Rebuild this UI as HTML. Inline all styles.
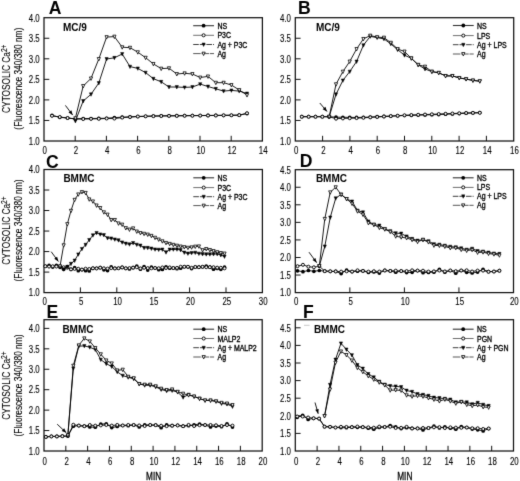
<!DOCTYPE html>
<html><head><meta charset="utf-8"><style>
html,body{margin:0;padding:0;background:#fff;}
body{width:520px;height:481px;overflow:hidden;font-family:"Liberation Sans", sans-serif;}
svg{display:block;}
</style></head><body>
<svg width="520" height="481" viewBox="0 0 520 481" font-family='"Liberation Sans", sans-serif'>
<defs><filter id="bl" color-interpolation-filters="sRGB" filterUnits="userSpaceOnUse" x="0" y="0" width="520" height="481"><feConvolveMatrix order="3" kernelMatrix="1 8 1 8 64 8 1 8 1" divisor="100" edgeMode="duplicate"/></filter></defs>
<rect width="520" height="481" fill="#fff"/>
<g filter="url(#bl)">
<rect x="44.0" y="17.7" width="218.39999999999998" height="123.3" fill="none" stroke="#111" stroke-width="1.25"/>
<text x="0" y="0" font-size="10.1" font-weight="normal" text-anchor="end" fill="#000" stroke="#000" stroke-width="0.12" transform="translate(39.7,144.8) scale(0.78,1)">1.0</text>
<line x1="44.0" y1="120.45" x2="49.3" y2="120.45" stroke="#111" stroke-width="1"/>
<text x="0" y="0" font-size="10.1" font-weight="normal" text-anchor="end" fill="#000" stroke="#000" stroke-width="0.12" transform="translate(39.7,124.25) scale(0.78,1)">1.5</text>
<line x1="44.0" y1="99.90" x2="49.3" y2="99.90" stroke="#111" stroke-width="1"/>
<text x="0" y="0" font-size="10.1" font-weight="normal" text-anchor="end" fill="#000" stroke="#000" stroke-width="0.12" transform="translate(39.7,103.7) scale(0.78,1)">2.0</text>
<line x1="44.0" y1="79.35" x2="49.3" y2="79.35" stroke="#111" stroke-width="1"/>
<text x="0" y="0" font-size="10.1" font-weight="normal" text-anchor="end" fill="#000" stroke="#000" stroke-width="0.12" transform="translate(39.7,83.14999999999999) scale(0.78,1)">2.5</text>
<line x1="44.0" y1="58.80" x2="49.3" y2="58.80" stroke="#111" stroke-width="1"/>
<text x="0" y="0" font-size="10.1" font-weight="normal" text-anchor="end" fill="#000" stroke="#000" stroke-width="0.12" transform="translate(39.7,62.599999999999994) scale(0.78,1)">3.0</text>
<line x1="44.0" y1="38.25" x2="49.3" y2="38.25" stroke="#111" stroke-width="1"/>
<text x="0" y="0" font-size="10.1" font-weight="normal" text-anchor="end" fill="#000" stroke="#000" stroke-width="0.12" transform="translate(39.7,42.05) scale(0.78,1)">3.5</text>
<text x="0" y="0" font-size="10.1" font-weight="normal" text-anchor="end" fill="#000" stroke="#000" stroke-width="0.12" transform="translate(39.7,21.49999999999999) scale(0.78,1)">4.0</text>
<text x="0" y="0" font-size="10.1" font-weight="normal" text-anchor="middle" fill="#000" stroke="#000" stroke-width="0.12" transform="translate(44.8,154.0) scale(0.78,1)">0</text>
<line x1="75.20" y1="141.0" x2="75.20" y2="135.8" stroke="#111" stroke-width="1"/>
<text x="0" y="0" font-size="10.1" font-weight="normal" text-anchor="middle" fill="#000" stroke="#000" stroke-width="0.12" transform="translate(75.99999999999999,154.0) scale(0.78,1)">2</text>
<line x1="106.40" y1="141.0" x2="106.40" y2="135.8" stroke="#111" stroke-width="1"/>
<text x="0" y="0" font-size="10.1" font-weight="normal" text-anchor="middle" fill="#000" stroke="#000" stroke-width="0.12" transform="translate(107.19999999999999,154.0) scale(0.78,1)">4</text>
<line x1="137.60" y1="141.0" x2="137.60" y2="135.8" stroke="#111" stroke-width="1"/>
<text x="0" y="0" font-size="10.1" font-weight="normal" text-anchor="middle" fill="#000" stroke="#000" stroke-width="0.12" transform="translate(138.4,154.0) scale(0.78,1)">6</text>
<line x1="168.80" y1="141.0" x2="168.80" y2="135.8" stroke="#111" stroke-width="1"/>
<text x="0" y="0" font-size="10.1" font-weight="normal" text-anchor="middle" fill="#000" stroke="#000" stroke-width="0.12" transform="translate(169.6,154.0) scale(0.78,1)">8</text>
<line x1="200.00" y1="141.0" x2="200.00" y2="135.8" stroke="#111" stroke-width="1"/>
<text x="0" y="0" font-size="10.1" font-weight="normal" text-anchor="middle" fill="#000" stroke="#000" stroke-width="0.12" transform="translate(200.79999999999998,154.0) scale(0.78,1)">10</text>
<line x1="231.20" y1="141.0" x2="231.20" y2="135.8" stroke="#111" stroke-width="1"/>
<text x="0" y="0" font-size="10.1" font-weight="normal" text-anchor="middle" fill="#000" stroke="#000" stroke-width="0.12" transform="translate(232.0,154.0) scale(0.78,1)">12</text>
<text x="0" y="0" font-size="10.1" font-weight="normal" text-anchor="middle" fill="#000" stroke="#000" stroke-width="0.12" transform="translate(263.2,154.0) scale(0.78,1)">14</text>
<text x="0" y="0" font-size="17.6" font-weight="bold" text-anchor="start" fill="#000" transform="translate(48.8,14.1) scale(1.0,1)">A</text>
<text x="0" y="0" font-size="10.0" font-weight="bold" text-anchor="start" fill="#000" transform="translate(63.0,31.3) scale(1.0,1)">MC/9</text>
<polyline points="193.20,25.70 214.00,25.70" fill="none" stroke="#333" stroke-width="1.1"/>
<circle cx="203.60" cy="25.70" r="1.90" fill="#000"/>
<text x="0" y="0" font-size="8.6" font-weight="normal" text-anchor="start" fill="#000" stroke="#000" stroke-width="0.35" transform="translate(217.39999999999998,28.7) scale(0.81,1)">NS</text>
<polyline points="193.20,35.30 214.00,35.30" fill="none" stroke="#555" stroke-width="0.85"/>
<circle cx="203.60" cy="35.30" r="1.55" fill="#fff" stroke="#000" stroke-width="0.95"/>
<text x="0" y="0" font-size="8.6" font-weight="normal" text-anchor="start" fill="#000" stroke="#000" stroke-width="0.35" transform="translate(217.39999999999998,38.3) scale(0.81,1)">P3C</text>
<polyline points="193.20,44.50 214.00,44.50" fill="none" stroke="#333" stroke-width="0.95" stroke-dasharray="5.6,1"/>
<polygon points="201.99,43.06 205.21,43.06 203.60,46.46" fill="#000" stroke="#000" stroke-width="0.5"/>
<text x="0" y="0" font-size="8.6" font-weight="normal" text-anchor="start" fill="#000" stroke="#000" stroke-width="0.35" transform="translate(217.39999999999998,47.5) scale(0.81,1)">Ag + P3C</text>
<polyline points="193.20,53.60 214.00,53.60" fill="none" stroke="#444" stroke-width="0.9" stroke-dasharray="7.5,0.8"/>
<polygon points="201.99,52.16 205.21,52.16 203.60,55.56" fill="#fff" stroke="#000" stroke-width="0.8"/>
<text x="0" y="0" font-size="8.6" font-weight="normal" text-anchor="start" fill="#000" stroke="#000" stroke-width="0.35" transform="translate(217.39999999999998,56.6) scale(0.81,1)">Ag</text>
<text transform="translate(9.9,78.7) rotate(-90) scale(0.80,1)" font-size="10.4" text-anchor="middle" fill="#000" stroke="#000" stroke-width="0.1">CYTOSOLIC Ca<tspan font-size="8.3" dy="-3.3">2+</tspan></text>
<text transform="translate(21.8,78.7) rotate(-90) scale(0.81,1)" font-size="10.3" text-anchor="middle" fill="#000" stroke="#000" stroke-width="0.1">(Fluorescence 340/380 nm)</text>
<polyline points="52.00,115.35 59.80,117.32 67.60,118.02 75.40,118.80 83.20,118.60 91.00,118.49 98.80,118.39 106.60,118.25 114.40,117.58 122.20,117.19 130.00,116.85 137.80,116.51 145.60,116.26 153.40,116.01 161.20,115.79 169.00,115.73 176.80,115.67 184.60,115.62 192.40,115.56 200.20,115.50 208.00,115.44 215.80,115.38 223.60,115.32 231.40,115.26 239.20,115.16 247.00,113.60" fill="none" stroke="#000" stroke-width="0.9"/>
<circle cx="52.00" cy="115.35" r="1.85" fill="#000"/>
<circle cx="59.80" cy="117.32" r="1.85" fill="#000"/>
<circle cx="67.60" cy="118.02" r="1.85" fill="#000"/>
<circle cx="75.40" cy="118.80" r="1.85" fill="#000"/>
<circle cx="83.20" cy="118.60" r="1.85" fill="#000"/>
<circle cx="91.00" cy="118.49" r="1.85" fill="#000"/>
<circle cx="98.80" cy="118.39" r="1.85" fill="#000"/>
<circle cx="106.60" cy="118.25" r="1.85" fill="#000"/>
<circle cx="114.40" cy="117.58" r="1.85" fill="#000"/>
<circle cx="122.20" cy="117.19" r="1.85" fill="#000"/>
<circle cx="130.00" cy="116.85" r="1.85" fill="#000"/>
<circle cx="137.80" cy="116.51" r="1.85" fill="#000"/>
<circle cx="145.60" cy="116.26" r="1.85" fill="#000"/>
<circle cx="153.40" cy="116.01" r="1.85" fill="#000"/>
<circle cx="161.20" cy="115.79" r="1.85" fill="#000"/>
<circle cx="169.00" cy="115.73" r="1.85" fill="#000"/>
<circle cx="176.80" cy="115.67" r="1.85" fill="#000"/>
<circle cx="184.60" cy="115.62" r="1.85" fill="#000"/>
<circle cx="192.40" cy="115.56" r="1.85" fill="#000"/>
<circle cx="200.20" cy="115.50" r="1.85" fill="#000"/>
<circle cx="208.00" cy="115.44" r="1.85" fill="#000"/>
<circle cx="215.80" cy="115.38" r="1.85" fill="#000"/>
<circle cx="223.60" cy="115.32" r="1.85" fill="#000"/>
<circle cx="231.40" cy="115.26" r="1.85" fill="#000"/>
<circle cx="239.20" cy="115.16" r="1.85" fill="#000"/>
<circle cx="247.00" cy="113.60" r="1.85" fill="#000"/>
<polyline points="52.00,115.83 59.80,117.03 67.60,118.03 75.40,119.00 83.20,119.00 91.00,118.89 98.80,118.77 106.60,118.51 114.40,118.55 122.20,117.59 130.00,117.05 137.80,116.51 145.60,116.33 153.40,116.15 161.20,115.99 169.00,115.91 176.80,115.83 184.60,115.75 192.40,115.68 200.20,115.60 208.00,115.52 215.80,115.44 223.60,115.36 231.40,115.28 239.20,115.15 247.00,113.20" fill="none" stroke="#000" stroke-width="0.9"/>
<circle cx="52.00" cy="115.83" r="1.50" fill="#fff" stroke="#000" stroke-width="0.95"/>
<circle cx="59.80" cy="117.03" r="1.50" fill="#fff" stroke="#000" stroke-width="0.95"/>
<circle cx="67.60" cy="118.03" r="1.50" fill="#fff" stroke="#000" stroke-width="0.95"/>
<circle cx="75.40" cy="119.00" r="1.50" fill="#fff" stroke="#000" stroke-width="0.95"/>
<circle cx="83.20" cy="119.00" r="1.50" fill="#fff" stroke="#000" stroke-width="0.95"/>
<circle cx="91.00" cy="118.89" r="1.50" fill="#fff" stroke="#000" stroke-width="0.95"/>
<circle cx="98.80" cy="118.77" r="1.50" fill="#fff" stroke="#000" stroke-width="0.95"/>
<circle cx="106.60" cy="118.51" r="1.50" fill="#fff" stroke="#000" stroke-width="0.95"/>
<circle cx="114.40" cy="118.55" r="1.50" fill="#fff" stroke="#000" stroke-width="0.95"/>
<circle cx="122.20" cy="117.59" r="1.50" fill="#fff" stroke="#000" stroke-width="0.95"/>
<circle cx="130.00" cy="117.05" r="1.50" fill="#fff" stroke="#000" stroke-width="0.95"/>
<circle cx="137.80" cy="116.51" r="1.50" fill="#fff" stroke="#000" stroke-width="0.95"/>
<circle cx="145.60" cy="116.33" r="1.50" fill="#fff" stroke="#000" stroke-width="0.95"/>
<circle cx="153.40" cy="116.15" r="1.50" fill="#fff" stroke="#000" stroke-width="0.95"/>
<circle cx="161.20" cy="115.99" r="1.50" fill="#fff" stroke="#000" stroke-width="0.95"/>
<circle cx="169.00" cy="115.91" r="1.50" fill="#fff" stroke="#000" stroke-width="0.95"/>
<circle cx="176.80" cy="115.83" r="1.50" fill="#fff" stroke="#000" stroke-width="0.95"/>
<circle cx="184.60" cy="115.75" r="1.50" fill="#fff" stroke="#000" stroke-width="0.95"/>
<circle cx="192.40" cy="115.68" r="1.50" fill="#fff" stroke="#000" stroke-width="0.95"/>
<circle cx="200.20" cy="115.60" r="1.50" fill="#fff" stroke="#000" stroke-width="0.95"/>
<circle cx="208.00" cy="115.52" r="1.50" fill="#fff" stroke="#000" stroke-width="0.95"/>
<circle cx="215.80" cy="115.44" r="1.50" fill="#fff" stroke="#000" stroke-width="0.95"/>
<circle cx="223.60" cy="115.36" r="1.50" fill="#fff" stroke="#000" stroke-width="0.95"/>
<circle cx="231.40" cy="115.28" r="1.50" fill="#fff" stroke="#000" stroke-width="0.95"/>
<circle cx="239.20" cy="115.15" r="1.50" fill="#fff" stroke="#000" stroke-width="0.95"/>
<circle cx="247.00" cy="113.20" r="1.50" fill="#fff" stroke="#000" stroke-width="0.95"/>
<polyline points="75.40,121.00 83.20,101.00 91.00,94.30 98.80,83.00 106.60,59.00 114.40,57.80 122.20,54.00 130.00,66.60 137.80,68.40 145.60,72.60 153.40,78.70 161.20,81.80 169.00,87.00 176.80,87.00 184.60,87.40 192.40,87.00 200.20,84.10 208.00,86.50 215.80,88.80 223.60,91.10 231.40,90.40 239.20,91.10 247.00,93.50" fill="none" stroke="#000" stroke-width="0.9"/>
<polygon points="73.79,119.56 77.01,119.56 75.40,122.96" fill="#000" stroke="#000" stroke-width="0.5"/>
<polygon points="81.59,99.56 84.81,99.56 83.20,102.96" fill="#000" stroke="#000" stroke-width="0.5"/>
<polygon points="89.39,92.86 92.61,92.86 91.00,96.26" fill="#000" stroke="#000" stroke-width="0.5"/>
<polygon points="97.19,81.56 100.41,81.56 98.80,84.96" fill="#000" stroke="#000" stroke-width="0.5"/>
<polygon points="104.99,57.56 108.21,57.56 106.60,60.96" fill="#000" stroke="#000" stroke-width="0.5"/>
<polygon points="112.79,56.36 116.01,56.36 114.40,59.76" fill="#000" stroke="#000" stroke-width="0.5"/>
<polygon points="120.59,52.56 123.81,52.56 122.20,55.96" fill="#000" stroke="#000" stroke-width="0.5"/>
<polygon points="128.39,65.16 131.61,65.16 130.00,68.56" fill="#000" stroke="#000" stroke-width="0.5"/>
<polygon points="136.19,66.97 139.41,66.97 137.80,70.36" fill="#000" stroke="#000" stroke-width="0.5"/>
<polygon points="143.99,71.16 147.21,71.16 145.60,74.56" fill="#000" stroke="#000" stroke-width="0.5"/>
<polygon points="151.79,77.27 155.01,77.27 153.40,80.66" fill="#000" stroke="#000" stroke-width="0.5"/>
<polygon points="159.59,80.36 162.81,80.36 161.20,83.76" fill="#000" stroke="#000" stroke-width="0.5"/>
<polygon points="167.39,85.56 170.61,85.56 169.00,88.96" fill="#000" stroke="#000" stroke-width="0.5"/>
<polygon points="175.19,85.56 178.41,85.56 176.80,88.96" fill="#000" stroke="#000" stroke-width="0.5"/>
<polygon points="182.99,85.97 186.21,85.97 184.60,89.36" fill="#000" stroke="#000" stroke-width="0.5"/>
<polygon points="190.79,85.56 194.01,85.56 192.40,88.96" fill="#000" stroke="#000" stroke-width="0.5"/>
<polygon points="198.59,82.66 201.81,82.66 200.20,86.06" fill="#000" stroke="#000" stroke-width="0.5"/>
<polygon points="206.39,85.06 209.61,85.06 208.00,88.46" fill="#000" stroke="#000" stroke-width="0.5"/>
<polygon points="214.19,87.36 217.41,87.36 215.80,90.76" fill="#000" stroke="#000" stroke-width="0.5"/>
<polygon points="221.99,89.66 225.21,89.66 223.60,93.06" fill="#000" stroke="#000" stroke-width="0.5"/>
<polygon points="229.79,88.97 233.01,88.97 231.40,92.36" fill="#000" stroke="#000" stroke-width="0.5"/>
<polygon points="237.59,89.66 240.81,89.66 239.20,93.06" fill="#000" stroke="#000" stroke-width="0.5"/>
<polygon points="245.39,92.06 248.61,92.06 247.00,95.46" fill="#000" stroke="#000" stroke-width="0.5"/>
<polyline points="75.40,118.20 83.20,86.00 91.00,78.40 98.80,59.00 106.60,37.10 114.40,36.60 122.20,47.20 130.00,47.70 137.80,52.20 145.60,57.70 153.40,63.90 161.20,68.60 169.00,68.20 176.80,74.00 184.60,73.30 192.40,74.00 200.20,77.50 208.00,76.40 215.80,82.70 223.60,82.70 231.40,85.00 239.20,90.00 247.00,95.10" fill="none" stroke="#000" stroke-width="0.9"/>
<polygon points="73.79,116.77 77.01,116.77 75.40,120.16" fill="#fff" stroke="#000" stroke-width="0.8"/>
<polygon points="81.59,84.56 84.81,84.56 83.20,87.96" fill="#fff" stroke="#000" stroke-width="0.8"/>
<polygon points="89.39,76.97 92.61,76.97 91.00,80.36" fill="#fff" stroke="#000" stroke-width="0.8"/>
<polygon points="97.19,57.56 100.41,57.56 98.80,60.96" fill="#fff" stroke="#000" stroke-width="0.8"/>
<polygon points="104.99,35.66 108.21,35.66 106.60,39.06" fill="#fff" stroke="#000" stroke-width="0.8"/>
<polygon points="112.79,35.16 116.01,35.16 114.40,38.56" fill="#fff" stroke="#000" stroke-width="0.8"/>
<polygon points="120.59,45.77 123.81,45.77 122.20,49.16" fill="#fff" stroke="#000" stroke-width="0.8"/>
<polygon points="128.39,46.27 131.61,46.27 130.00,49.66" fill="#fff" stroke="#000" stroke-width="0.8"/>
<polygon points="136.19,50.77 139.41,50.77 137.80,54.16" fill="#fff" stroke="#000" stroke-width="0.8"/>
<polygon points="143.99,56.27 147.21,56.27 145.60,59.66" fill="#fff" stroke="#000" stroke-width="0.8"/>
<polygon points="151.79,62.46 155.01,62.46 153.40,65.86" fill="#fff" stroke="#000" stroke-width="0.8"/>
<polygon points="159.59,67.16 162.81,67.16 161.20,70.56" fill="#fff" stroke="#000" stroke-width="0.8"/>
<polygon points="167.39,66.77 170.61,66.77 169.00,70.16" fill="#fff" stroke="#000" stroke-width="0.8"/>
<polygon points="175.19,72.56 178.41,72.56 176.80,75.96" fill="#fff" stroke="#000" stroke-width="0.8"/>
<polygon points="182.99,71.86 186.21,71.86 184.60,75.26" fill="#fff" stroke="#000" stroke-width="0.8"/>
<polygon points="190.79,72.56 194.01,72.56 192.40,75.96" fill="#fff" stroke="#000" stroke-width="0.8"/>
<polygon points="198.59,76.06 201.81,76.06 200.20,79.46" fill="#fff" stroke="#000" stroke-width="0.8"/>
<polygon points="206.39,74.97 209.61,74.97 208.00,78.36" fill="#fff" stroke="#000" stroke-width="0.8"/>
<polygon points="214.19,81.27 217.41,81.27 215.80,84.66" fill="#fff" stroke="#000" stroke-width="0.8"/>
<polygon points="221.99,81.27 225.21,81.27 223.60,84.66" fill="#fff" stroke="#000" stroke-width="0.8"/>
<polygon points="229.79,83.56 233.01,83.56 231.40,86.96" fill="#fff" stroke="#000" stroke-width="0.8"/>
<polygon points="237.59,88.56 240.81,88.56 239.20,91.96" fill="#fff" stroke="#000" stroke-width="0.8"/>
<polygon points="245.39,93.66 248.61,93.66 247.00,97.06" fill="#fff" stroke="#000" stroke-width="0.8"/>
<line x1="65.4" y1="105.4" x2="72.7" y2="115.1" stroke="#000" stroke-width="0.9"/>
<polygon points="72.70,115.10 68.50,112.51 71.37,110.34" fill="#000"/>
<rect x="295.3" y="17.7" width="218.40000000000003" height="123.3" fill="none" stroke="#111" stroke-width="1.25"/>
<text x="0" y="0" font-size="10.1" font-weight="normal" text-anchor="end" fill="#000" stroke="#000" stroke-width="0.12" transform="translate(291.0,144.8) scale(0.78,1)">1.0</text>
<line x1="295.3" y1="120.45" x2="300.6" y2="120.45" stroke="#111" stroke-width="1"/>
<text x="0" y="0" font-size="10.1" font-weight="normal" text-anchor="end" fill="#000" stroke="#000" stroke-width="0.12" transform="translate(291.0,124.25) scale(0.78,1)">1.5</text>
<line x1="295.3" y1="99.90" x2="300.6" y2="99.90" stroke="#111" stroke-width="1"/>
<text x="0" y="0" font-size="10.1" font-weight="normal" text-anchor="end" fill="#000" stroke="#000" stroke-width="0.12" transform="translate(291.0,103.7) scale(0.78,1)">2.0</text>
<line x1="295.3" y1="79.35" x2="300.6" y2="79.35" stroke="#111" stroke-width="1"/>
<text x="0" y="0" font-size="10.1" font-weight="normal" text-anchor="end" fill="#000" stroke="#000" stroke-width="0.12" transform="translate(291.0,83.14999999999999) scale(0.78,1)">2.5</text>
<line x1="295.3" y1="58.80" x2="300.6" y2="58.80" stroke="#111" stroke-width="1"/>
<text x="0" y="0" font-size="10.1" font-weight="normal" text-anchor="end" fill="#000" stroke="#000" stroke-width="0.12" transform="translate(291.0,62.599999999999994) scale(0.78,1)">3.0</text>
<line x1="295.3" y1="38.25" x2="300.6" y2="38.25" stroke="#111" stroke-width="1"/>
<text x="0" y="0" font-size="10.1" font-weight="normal" text-anchor="end" fill="#000" stroke="#000" stroke-width="0.12" transform="translate(291.0,42.05) scale(0.78,1)">3.5</text>
<text x="0" y="0" font-size="10.1" font-weight="normal" text-anchor="end" fill="#000" stroke="#000" stroke-width="0.12" transform="translate(291.0,21.49999999999999) scale(0.78,1)">4.0</text>
<text x="0" y="0" font-size="10.1" font-weight="normal" text-anchor="middle" fill="#000" stroke="#000" stroke-width="0.12" transform="translate(296.1,154.0) scale(0.78,1)">0</text>
<line x1="322.60" y1="141.0" x2="322.60" y2="135.8" stroke="#111" stroke-width="1"/>
<text x="0" y="0" font-size="10.1" font-weight="normal" text-anchor="middle" fill="#000" stroke="#000" stroke-width="0.12" transform="translate(323.40000000000003,154.0) scale(0.78,1)">2</text>
<line x1="349.90" y1="141.0" x2="349.90" y2="135.8" stroke="#111" stroke-width="1"/>
<text x="0" y="0" font-size="10.1" font-weight="normal" text-anchor="middle" fill="#000" stroke="#000" stroke-width="0.12" transform="translate(350.70000000000005,154.0) scale(0.78,1)">4</text>
<line x1="377.20" y1="141.0" x2="377.20" y2="135.8" stroke="#111" stroke-width="1"/>
<text x="0" y="0" font-size="10.1" font-weight="normal" text-anchor="middle" fill="#000" stroke="#000" stroke-width="0.12" transform="translate(378.00000000000006,154.0) scale(0.78,1)">6</text>
<line x1="404.50" y1="141.0" x2="404.50" y2="135.8" stroke="#111" stroke-width="1"/>
<text x="0" y="0" font-size="10.1" font-weight="normal" text-anchor="middle" fill="#000" stroke="#000" stroke-width="0.12" transform="translate(405.3,154.0) scale(0.78,1)">8</text>
<line x1="431.80" y1="141.0" x2="431.80" y2="135.8" stroke="#111" stroke-width="1"/>
<text x="0" y="0" font-size="10.1" font-weight="normal" text-anchor="middle" fill="#000" stroke="#000" stroke-width="0.12" transform="translate(432.6000000000001,154.0) scale(0.78,1)">10</text>
<line x1="459.10" y1="141.0" x2="459.10" y2="135.8" stroke="#111" stroke-width="1"/>
<text x="0" y="0" font-size="10.1" font-weight="normal" text-anchor="middle" fill="#000" stroke="#000" stroke-width="0.12" transform="translate(459.90000000000003,154.0) scale(0.78,1)">12</text>
<line x1="486.40" y1="141.0" x2="486.40" y2="135.8" stroke="#111" stroke-width="1"/>
<text x="0" y="0" font-size="10.1" font-weight="normal" text-anchor="middle" fill="#000" stroke="#000" stroke-width="0.12" transform="translate(487.20000000000005,154.0) scale(0.78,1)">14</text>
<text x="0" y="0" font-size="10.1" font-weight="normal" text-anchor="middle" fill="#000" stroke="#000" stroke-width="0.12" transform="translate(514.5,154.0) scale(0.78,1)">16</text>
<text x="0" y="0" font-size="17.6" font-weight="bold" text-anchor="start" fill="#000" transform="translate(298.0,14.1) scale(1.0,1)">B</text>
<text x="0" y="0" font-size="10.0" font-weight="bold" text-anchor="start" fill="#000" transform="translate(316.0,31.3) scale(1.0,1)">MC/9</text>
<polyline points="452.90,25.50 473.70,25.50" fill="none" stroke="#333" stroke-width="1.1"/>
<circle cx="463.30" cy="25.50" r="1.90" fill="#000"/>
<text x="0" y="0" font-size="8.6" font-weight="normal" text-anchor="start" fill="#000" stroke="#000" stroke-width="0.35" transform="translate(477.09999999999997,28.5) scale(0.81,1)">NS</text>
<polyline points="452.90,35.60 473.70,35.60" fill="none" stroke="#555" stroke-width="0.85"/>
<circle cx="463.30" cy="35.60" r="1.55" fill="#fff" stroke="#000" stroke-width="0.95"/>
<text x="0" y="0" font-size="8.6" font-weight="normal" text-anchor="start" fill="#000" stroke="#000" stroke-width="0.35" transform="translate(477.09999999999997,38.6) scale(0.81,1)">LPS</text>
<polyline points="452.90,44.70 473.70,44.70" fill="none" stroke="#333" stroke-width="0.95" stroke-dasharray="5.6,1"/>
<polygon points="461.69,43.27 464.91,43.27 463.30,46.66" fill="#000" stroke="#000" stroke-width="0.5"/>
<text x="0" y="0" font-size="8.6" font-weight="normal" text-anchor="start" fill="#000" stroke="#000" stroke-width="0.35" transform="translate(477.09999999999997,47.7) scale(0.81,1)">Ag + LPS</text>
<polyline points="452.90,54.00 473.70,54.00" fill="none" stroke="#444" stroke-width="0.9" stroke-dasharray="7.5,0.8"/>
<polygon points="461.69,52.56 464.91,52.56 463.30,55.96" fill="#fff" stroke="#000" stroke-width="0.8"/>
<text x="0" y="0" font-size="8.6" font-weight="normal" text-anchor="start" fill="#000" stroke="#000" stroke-width="0.35" transform="translate(477.09999999999997,57.0) scale(0.81,1)">Ag</text>
<polyline points="301.80,116.70 308.65,116.70 315.49,116.70 322.34,116.70 329.18,116.71 336.03,117.20 342.88,117.29 349.72,117.37 356.57,117.46 363.41,117.34 370.26,117.03 377.11,116.72 383.95,116.41 390.80,116.10 397.64,115.79 404.49,115.49 411.34,115.30 418.18,115.11 425.03,114.92 431.87,114.73 438.72,114.54 445.57,114.22 452.41,113.88 459.26,113.54 466.10,113.20 472.95,112.90 479.80,112.61" fill="none" stroke="#000" stroke-width="0.9"/>
<circle cx="301.80" cy="116.70" r="1.85" fill="#000"/>
<circle cx="308.65" cy="116.70" r="1.85" fill="#000"/>
<circle cx="315.49" cy="116.70" r="1.85" fill="#000"/>
<circle cx="322.34" cy="116.70" r="1.85" fill="#000"/>
<circle cx="329.18" cy="116.71" r="1.85" fill="#000"/>
<circle cx="336.03" cy="117.20" r="1.85" fill="#000"/>
<circle cx="342.88" cy="117.29" r="1.85" fill="#000"/>
<circle cx="349.72" cy="117.37" r="1.85" fill="#000"/>
<circle cx="356.57" cy="117.46" r="1.85" fill="#000"/>
<circle cx="363.41" cy="117.34" r="1.85" fill="#000"/>
<circle cx="370.26" cy="117.03" r="1.85" fill="#000"/>
<circle cx="377.11" cy="116.72" r="1.85" fill="#000"/>
<circle cx="383.95" cy="116.41" r="1.85" fill="#000"/>
<circle cx="390.80" cy="116.10" r="1.85" fill="#000"/>
<circle cx="397.64" cy="115.79" r="1.85" fill="#000"/>
<circle cx="404.49" cy="115.49" r="1.85" fill="#000"/>
<circle cx="411.34" cy="115.30" r="1.85" fill="#000"/>
<circle cx="418.18" cy="115.11" r="1.85" fill="#000"/>
<circle cx="425.03" cy="114.92" r="1.85" fill="#000"/>
<circle cx="431.87" cy="114.73" r="1.85" fill="#000"/>
<circle cx="438.72" cy="114.54" r="1.85" fill="#000"/>
<circle cx="445.57" cy="114.22" r="1.85" fill="#000"/>
<circle cx="452.41" cy="113.88" r="1.85" fill="#000"/>
<circle cx="459.26" cy="113.54" r="1.85" fill="#000"/>
<circle cx="466.10" cy="113.20" r="1.85" fill="#000"/>
<circle cx="472.95" cy="112.90" r="1.85" fill="#000"/>
<circle cx="479.80" cy="112.61" r="1.85" fill="#000"/>
<polyline points="301.80,116.70 308.65,116.70 315.49,116.70 322.34,116.70 329.18,116.75 336.03,118.70 342.88,118.41 349.72,118.24 356.57,118.08 363.41,117.79 370.26,117.37 377.11,116.95 383.95,116.53 390.80,116.11 397.64,115.69 404.49,115.28 411.34,115.04 418.18,114.79 425.03,114.54 431.87,114.29 438.72,114.05 445.57,113.79 452.41,113.52 459.26,113.26 466.10,113.00 472.95,112.90 479.80,112.80" fill="none" stroke="#000" stroke-width="0.9"/>
<circle cx="301.80" cy="116.70" r="1.50" fill="#fff" stroke="#000" stroke-width="0.95"/>
<circle cx="308.65" cy="116.70" r="1.50" fill="#fff" stroke="#000" stroke-width="0.95"/>
<circle cx="315.49" cy="116.70" r="1.50" fill="#fff" stroke="#000" stroke-width="0.95"/>
<circle cx="322.34" cy="116.70" r="1.50" fill="#fff" stroke="#000" stroke-width="0.95"/>
<circle cx="329.18" cy="116.75" r="1.50" fill="#fff" stroke="#000" stroke-width="0.95"/>
<circle cx="336.03" cy="118.70" r="1.50" fill="#fff" stroke="#000" stroke-width="0.95"/>
<circle cx="342.88" cy="118.41" r="1.50" fill="#fff" stroke="#000" stroke-width="0.95"/>
<circle cx="349.72" cy="118.24" r="1.50" fill="#fff" stroke="#000" stroke-width="0.95"/>
<circle cx="356.57" cy="118.08" r="1.50" fill="#fff" stroke="#000" stroke-width="0.95"/>
<circle cx="363.41" cy="117.79" r="1.50" fill="#fff" stroke="#000" stroke-width="0.95"/>
<circle cx="370.26" cy="117.37" r="1.50" fill="#fff" stroke="#000" stroke-width="0.95"/>
<circle cx="377.11" cy="116.95" r="1.50" fill="#fff" stroke="#000" stroke-width="0.95"/>
<circle cx="383.95" cy="116.53" r="1.50" fill="#fff" stroke="#000" stroke-width="0.95"/>
<circle cx="390.80" cy="116.11" r="1.50" fill="#fff" stroke="#000" stroke-width="0.95"/>
<circle cx="397.64" cy="115.69" r="1.50" fill="#fff" stroke="#000" stroke-width="0.95"/>
<circle cx="404.49" cy="115.28" r="1.50" fill="#fff" stroke="#000" stroke-width="0.95"/>
<circle cx="411.34" cy="115.04" r="1.50" fill="#fff" stroke="#000" stroke-width="0.95"/>
<circle cx="418.18" cy="114.79" r="1.50" fill="#fff" stroke="#000" stroke-width="0.95"/>
<circle cx="425.03" cy="114.54" r="1.50" fill="#fff" stroke="#000" stroke-width="0.95"/>
<circle cx="431.87" cy="114.29" r="1.50" fill="#fff" stroke="#000" stroke-width="0.95"/>
<circle cx="438.72" cy="114.05" r="1.50" fill="#fff" stroke="#000" stroke-width="0.95"/>
<circle cx="445.57" cy="113.79" r="1.50" fill="#fff" stroke="#000" stroke-width="0.95"/>
<circle cx="452.41" cy="113.52" r="1.50" fill="#fff" stroke="#000" stroke-width="0.95"/>
<circle cx="459.26" cy="113.26" r="1.50" fill="#fff" stroke="#000" stroke-width="0.95"/>
<circle cx="466.10" cy="113.00" r="1.50" fill="#fff" stroke="#000" stroke-width="0.95"/>
<circle cx="472.95" cy="112.90" r="1.50" fill="#fff" stroke="#000" stroke-width="0.95"/>
<circle cx="479.80" cy="112.80" r="1.50" fill="#fff" stroke="#000" stroke-width="0.95"/>
<polyline points="329.18,116.70 336.03,94.30 342.88,80.40 349.72,71.60 356.57,61.50 363.41,45.20 370.26,36.40 377.11,37.60 383.95,38.90 390.80,43.90 397.64,49.70 404.49,55.20 411.34,58.30 418.18,64.80 425.03,69.00 431.87,71.60 438.72,72.80 445.57,75.90 452.41,75.90 459.26,77.90 466.10,79.10 472.95,80.40 479.80,81.20" fill="none" stroke="#000" stroke-width="0.9"/>
<polygon points="327.57,115.27 330.79,115.27 329.18,118.66" fill="#000" stroke="#000" stroke-width="0.5"/>
<polygon points="334.42,92.86 337.64,92.86 336.03,96.26" fill="#000" stroke="#000" stroke-width="0.5"/>
<polygon points="341.27,78.97 344.49,78.97 342.88,82.36" fill="#000" stroke="#000" stroke-width="0.5"/>
<polygon points="348.11,70.16 351.33,70.16 349.72,73.56" fill="#000" stroke="#000" stroke-width="0.5"/>
<polygon points="354.96,60.06 358.18,60.06 356.57,63.46" fill="#000" stroke="#000" stroke-width="0.5"/>
<polygon points="361.80,43.77 365.02,43.77 363.41,47.16" fill="#000" stroke="#000" stroke-width="0.5"/>
<polygon points="368.65,34.96 371.87,34.96 370.26,38.36" fill="#000" stroke="#000" stroke-width="0.5"/>
<polygon points="375.50,36.16 378.72,36.16 377.11,39.56" fill="#000" stroke="#000" stroke-width="0.5"/>
<polygon points="382.34,37.46 385.56,37.46 383.95,40.86" fill="#000" stroke="#000" stroke-width="0.5"/>
<polygon points="389.19,42.46 392.41,42.46 390.80,45.86" fill="#000" stroke="#000" stroke-width="0.5"/>
<polygon points="396.03,48.27 399.25,48.27 397.64,51.66" fill="#000" stroke="#000" stroke-width="0.5"/>
<polygon points="402.88,53.77 406.10,53.77 404.49,57.16" fill="#000" stroke="#000" stroke-width="0.5"/>
<polygon points="409.73,56.86 412.95,56.86 411.34,60.26" fill="#000" stroke="#000" stroke-width="0.5"/>
<polygon points="416.57,63.36 419.79,63.36 418.18,66.76" fill="#000" stroke="#000" stroke-width="0.5"/>
<polygon points="423.42,67.56 426.64,67.56 425.03,70.96" fill="#000" stroke="#000" stroke-width="0.5"/>
<polygon points="430.26,70.16 433.48,70.16 431.87,73.56" fill="#000" stroke="#000" stroke-width="0.5"/>
<polygon points="437.11,71.36 440.33,71.36 438.72,74.76" fill="#000" stroke="#000" stroke-width="0.5"/>
<polygon points="443.96,74.47 447.18,74.47 445.57,77.86" fill="#000" stroke="#000" stroke-width="0.5"/>
<polygon points="450.80,74.47 454.02,74.47 452.41,77.86" fill="#000" stroke="#000" stroke-width="0.5"/>
<polygon points="457.65,76.47 460.87,76.47 459.26,79.86" fill="#000" stroke="#000" stroke-width="0.5"/>
<polygon points="464.49,77.66 467.71,77.66 466.10,81.06" fill="#000" stroke="#000" stroke-width="0.5"/>
<polygon points="471.34,78.97 474.56,78.97 472.95,82.36" fill="#000" stroke="#000" stroke-width="0.5"/>
<polygon points="478.19,79.77 481.41,79.77 479.80,83.16" fill="#000" stroke="#000" stroke-width="0.5"/>
<polyline points="329.18,116.70 336.03,84.20 342.88,71.60 349.72,61.50 356.57,49.00 363.41,38.90 370.26,35.60 377.11,37.10 383.95,37.60 390.80,42.70 397.64,49.00 404.49,51.50 411.34,58.30 418.18,64.80 425.03,66.60 431.87,71.60 438.72,72.80 445.57,75.90 452.41,75.90 459.26,77.90 466.10,79.10 472.95,80.40 479.80,81.20" fill="none" stroke="#000" stroke-width="0.9"/>
<polygon points="327.57,115.27 330.79,115.27 329.18,118.66" fill="#fff" stroke="#000" stroke-width="0.8"/>
<polygon points="334.42,82.77 337.64,82.77 336.03,86.16" fill="#fff" stroke="#000" stroke-width="0.8"/>
<polygon points="341.27,70.16 344.49,70.16 342.88,73.56" fill="#fff" stroke="#000" stroke-width="0.8"/>
<polygon points="348.11,60.06 351.33,60.06 349.72,63.46" fill="#fff" stroke="#000" stroke-width="0.8"/>
<polygon points="354.96,47.56 358.18,47.56 356.57,50.96" fill="#fff" stroke="#000" stroke-width="0.8"/>
<polygon points="361.80,37.46 365.02,37.46 363.41,40.86" fill="#fff" stroke="#000" stroke-width="0.8"/>
<polygon points="368.65,34.16 371.87,34.16 370.26,37.56" fill="#fff" stroke="#000" stroke-width="0.8"/>
<polygon points="375.50,35.66 378.72,35.66 377.11,39.06" fill="#fff" stroke="#000" stroke-width="0.8"/>
<polygon points="382.34,36.16 385.56,36.16 383.95,39.56" fill="#fff" stroke="#000" stroke-width="0.8"/>
<polygon points="389.19,41.27 392.41,41.27 390.80,44.66" fill="#fff" stroke="#000" stroke-width="0.8"/>
<polygon points="396.03,47.56 399.25,47.56 397.64,50.96" fill="#fff" stroke="#000" stroke-width="0.8"/>
<polygon points="402.88,50.06 406.10,50.06 404.49,53.46" fill="#fff" stroke="#000" stroke-width="0.8"/>
<polygon points="409.73,56.86 412.95,56.86 411.34,60.26" fill="#fff" stroke="#000" stroke-width="0.8"/>
<polygon points="416.57,63.36 419.79,63.36 418.18,66.76" fill="#fff" stroke="#000" stroke-width="0.8"/>
<polygon points="423.42,65.16 426.64,65.16 425.03,68.56" fill="#fff" stroke="#000" stroke-width="0.8"/>
<polygon points="430.26,70.16 433.48,70.16 431.87,73.56" fill="#fff" stroke="#000" stroke-width="0.8"/>
<polygon points="437.11,71.36 440.33,71.36 438.72,74.76" fill="#fff" stroke="#000" stroke-width="0.8"/>
<polygon points="443.96,74.47 447.18,74.47 445.57,77.86" fill="#fff" stroke="#000" stroke-width="0.8"/>
<polygon points="450.80,74.47 454.02,74.47 452.41,77.86" fill="#fff" stroke="#000" stroke-width="0.8"/>
<polygon points="457.65,76.47 460.87,76.47 459.26,79.86" fill="#fff" stroke="#000" stroke-width="0.8"/>
<polygon points="464.49,77.66 467.71,77.66 466.10,81.06" fill="#fff" stroke="#000" stroke-width="0.8"/>
<polygon points="471.34,78.97 474.56,78.97 472.95,82.36" fill="#fff" stroke="#000" stroke-width="0.8"/>
<polygon points="478.19,79.77 481.41,79.77 479.80,83.16" fill="#fff" stroke="#000" stroke-width="0.8"/>
<line x1="319.8" y1="103" x2="327" y2="111.5" stroke="#000" stroke-width="0.9"/>
<polygon points="327.00,111.50 322.65,109.15 325.40,106.83" fill="#000"/>
<rect x="44.0" y="169.5" width="218.39999999999998" height="123.10000000000002" fill="none" stroke="#111" stroke-width="1.25"/>
<text x="0" y="0" font-size="10.1" font-weight="normal" text-anchor="end" fill="#000" stroke="#000" stroke-width="0.12" transform="translate(39.7,296.40000000000003) scale(0.78,1)">1.0</text>
<line x1="44.0" y1="272.08" x2="49.3" y2="272.08" stroke="#111" stroke-width="1"/>
<text x="0" y="0" font-size="10.1" font-weight="normal" text-anchor="end" fill="#000" stroke="#000" stroke-width="0.12" transform="translate(39.7,275.8833333333334) scale(0.78,1)">1.5</text>
<line x1="44.0" y1="251.57" x2="49.3" y2="251.57" stroke="#111" stroke-width="1"/>
<text x="0" y="0" font-size="10.1" font-weight="normal" text-anchor="end" fill="#000" stroke="#000" stroke-width="0.12" transform="translate(39.7,255.3666666666667) scale(0.78,1)">2.0</text>
<line x1="44.0" y1="231.05" x2="49.3" y2="231.05" stroke="#111" stroke-width="1"/>
<text x="0" y="0" font-size="10.1" font-weight="normal" text-anchor="end" fill="#000" stroke="#000" stroke-width="0.12" transform="translate(39.7,234.85000000000002) scale(0.78,1)">2.5</text>
<line x1="44.0" y1="210.53" x2="49.3" y2="210.53" stroke="#111" stroke-width="1"/>
<text x="0" y="0" font-size="10.1" font-weight="normal" text-anchor="end" fill="#000" stroke="#000" stroke-width="0.12" transform="translate(39.7,214.33333333333337) scale(0.78,1)">3.0</text>
<line x1="44.0" y1="190.02" x2="49.3" y2="190.02" stroke="#111" stroke-width="1"/>
<text x="0" y="0" font-size="10.1" font-weight="normal" text-anchor="end" fill="#000" stroke="#000" stroke-width="0.12" transform="translate(39.7,193.8166666666667) scale(0.78,1)">3.5</text>
<text x="0" y="0" font-size="10.1" font-weight="normal" text-anchor="end" fill="#000" stroke="#000" stroke-width="0.12" transform="translate(39.7,173.3) scale(0.78,1)">4.0</text>
<text x="0" y="0" font-size="10.1" font-weight="normal" text-anchor="middle" fill="#000" stroke="#000" stroke-width="0.12" transform="translate(44.8,304.90000000000003) scale(0.78,1)">0</text>
<line x1="80.40" y1="292.6" x2="80.40" y2="287.40000000000003" stroke="#111" stroke-width="1"/>
<text x="0" y="0" font-size="10.1" font-weight="normal" text-anchor="middle" fill="#000" stroke="#000" stroke-width="0.12" transform="translate(81.2,304.90000000000003) scale(0.78,1)">5</text>
<line x1="116.80" y1="292.6" x2="116.80" y2="287.40000000000003" stroke="#111" stroke-width="1"/>
<text x="0" y="0" font-size="10.1" font-weight="normal" text-anchor="middle" fill="#000" stroke="#000" stroke-width="0.12" transform="translate(117.6,304.90000000000003) scale(0.78,1)">10</text>
<line x1="153.20" y1="292.6" x2="153.20" y2="287.40000000000003" stroke="#111" stroke-width="1"/>
<text x="0" y="0" font-size="10.1" font-weight="normal" text-anchor="middle" fill="#000" stroke="#000" stroke-width="0.12" transform="translate(154.0,304.90000000000003) scale(0.78,1)">15</text>
<line x1="189.60" y1="292.6" x2="189.60" y2="287.40000000000003" stroke="#111" stroke-width="1"/>
<text x="0" y="0" font-size="10.1" font-weight="normal" text-anchor="middle" fill="#000" stroke="#000" stroke-width="0.12" transform="translate(190.4,304.90000000000003) scale(0.78,1)">20</text>
<line x1="226.00" y1="292.6" x2="226.00" y2="287.40000000000003" stroke="#111" stroke-width="1"/>
<text x="0" y="0" font-size="10.1" font-weight="normal" text-anchor="middle" fill="#000" stroke="#000" stroke-width="0.12" transform="translate(226.79999999999998,304.90000000000003) scale(0.78,1)">25</text>
<text x="0" y="0" font-size="10.1" font-weight="normal" text-anchor="middle" fill="#000" stroke="#000" stroke-width="0.12" transform="translate(263.2,304.90000000000003) scale(0.78,1)">30</text>
<text x="0" y="0" font-size="17.6" font-weight="bold" text-anchor="start" fill="#000" transform="translate(46.1,167.6) scale(1.0,1)">C</text>
<text x="0" y="0" font-size="10.0" font-weight="bold" text-anchor="start" fill="#000" transform="translate(63.4,182.3) scale(1.0,1)">BMMC</text>
<polyline points="193.30,177.80 214.10,177.80" fill="none" stroke="#333" stroke-width="1.1"/>
<circle cx="203.70" cy="177.80" r="1.90" fill="#000"/>
<text x="0" y="0" font-size="8.6" font-weight="normal" text-anchor="start" fill="#000" stroke="#000" stroke-width="0.35" transform="translate(217.5,180.8) scale(0.81,1)">NS</text>
<polyline points="193.30,187.60 214.10,187.60" fill="none" stroke="#555" stroke-width="0.85"/>
<circle cx="203.70" cy="187.60" r="1.55" fill="#fff" stroke="#000" stroke-width="0.95"/>
<text x="0" y="0" font-size="8.6" font-weight="normal" text-anchor="start" fill="#000" stroke="#000" stroke-width="0.35" transform="translate(217.5,190.6) scale(0.81,1)">P3C</text>
<polyline points="193.30,196.70 214.10,196.70" fill="none" stroke="#333" stroke-width="0.95" stroke-dasharray="5.6,1"/>
<polygon points="202.09,195.26 205.31,195.26 203.70,198.66" fill="#000" stroke="#000" stroke-width="0.5"/>
<text x="0" y="0" font-size="8.6" font-weight="normal" text-anchor="start" fill="#000" stroke="#000" stroke-width="0.35" transform="translate(217.5,199.7) scale(0.81,1)">Ag + P3C</text>
<polyline points="193.30,205.60 214.10,205.60" fill="none" stroke="#444" stroke-width="0.9" stroke-dasharray="7.5,0.8"/>
<polygon points="202.09,204.16 205.31,204.16 203.70,207.56" fill="#fff" stroke="#000" stroke-width="0.8"/>
<text x="0" y="0" font-size="8.6" font-weight="normal" text-anchor="start" fill="#000" stroke="#000" stroke-width="0.35" transform="translate(217.5,208.6) scale(0.81,1)">Ag</text>
<text transform="translate(9.9,230.5) rotate(-90) scale(0.80,1)" font-size="10.4" text-anchor="middle" fill="#000" stroke="#000" stroke-width="0.1">CYTOSOLIC Ca<tspan font-size="8.3" dy="-3.3">2+</tspan></text>
<text transform="translate(21.8,230.5) rotate(-90) scale(0.81,1)" font-size="10.3" text-anchor="middle" fill="#000" stroke="#000" stroke-width="0.1">(Fluorescence 340/380 nm)</text>
<polyline points="45.40,266.23 49.05,265.38 52.71,267.06 56.36,265.32 60.02,267.28 63.67,269.30 67.33,266.51 70.98,269.30 74.64,267.72 78.29,270.75 81.95,269.61 85.60,270.68 89.26,270.99 92.91,268.28 96.57,268.38 100.22,267.67 103.88,269.82 107.53,270.62 111.19,266.91 114.84,268.39 118.50,268.27 122.16,267.39 125.81,268.34 129.47,268.88 133.12,267.64 136.78,266.04 140.43,269.18 144.08,266.60 147.74,270.12 151.39,267.11 155.05,268.02 158.70,269.75 162.36,269.46 166.01,266.77 169.67,268.21 173.32,268.04 176.98,268.70 180.63,268.25 184.29,266.74 187.94,266.80 191.60,268.59 195.25,266.99 198.91,267.19 202.56,266.80 206.22,266.01 209.88,267.16 213.53,269.22 217.19,268.47 220.84,269.28 224.50,267.15" fill="none" stroke="#000" stroke-width="0.9"/>
<circle cx="45.40" cy="266.23" r="1.85" fill="#000"/>
<circle cx="49.05" cy="265.38" r="1.85" fill="#000"/>
<circle cx="52.71" cy="267.06" r="1.85" fill="#000"/>
<circle cx="56.36" cy="265.32" r="1.85" fill="#000"/>
<circle cx="60.02" cy="267.28" r="1.85" fill="#000"/>
<circle cx="63.67" cy="269.30" r="1.85" fill="#000"/>
<circle cx="67.33" cy="266.51" r="1.85" fill="#000"/>
<circle cx="70.98" cy="269.30" r="1.85" fill="#000"/>
<circle cx="74.64" cy="267.72" r="1.85" fill="#000"/>
<circle cx="78.29" cy="270.75" r="1.85" fill="#000"/>
<circle cx="81.95" cy="269.61" r="1.85" fill="#000"/>
<circle cx="85.60" cy="270.68" r="1.85" fill="#000"/>
<circle cx="89.26" cy="270.99" r="1.85" fill="#000"/>
<circle cx="92.91" cy="268.28" r="1.85" fill="#000"/>
<circle cx="96.57" cy="268.38" r="1.85" fill="#000"/>
<circle cx="100.22" cy="267.67" r="1.85" fill="#000"/>
<circle cx="103.88" cy="269.82" r="1.85" fill="#000"/>
<circle cx="107.53" cy="270.62" r="1.85" fill="#000"/>
<circle cx="111.19" cy="266.91" r="1.85" fill="#000"/>
<circle cx="114.84" cy="268.39" r="1.85" fill="#000"/>
<circle cx="118.50" cy="268.27" r="1.85" fill="#000"/>
<circle cx="122.16" cy="267.39" r="1.85" fill="#000"/>
<circle cx="125.81" cy="268.34" r="1.85" fill="#000"/>
<circle cx="129.47" cy="268.88" r="1.85" fill="#000"/>
<circle cx="133.12" cy="267.64" r="1.85" fill="#000"/>
<circle cx="136.78" cy="266.04" r="1.85" fill="#000"/>
<circle cx="140.43" cy="269.18" r="1.85" fill="#000"/>
<circle cx="144.08" cy="266.60" r="1.85" fill="#000"/>
<circle cx="147.74" cy="270.12" r="1.85" fill="#000"/>
<circle cx="151.39" cy="267.11" r="1.85" fill="#000"/>
<circle cx="155.05" cy="268.02" r="1.85" fill="#000"/>
<circle cx="158.70" cy="269.75" r="1.85" fill="#000"/>
<circle cx="162.36" cy="269.46" r="1.85" fill="#000"/>
<circle cx="166.01" cy="266.77" r="1.85" fill="#000"/>
<circle cx="169.67" cy="268.21" r="1.85" fill="#000"/>
<circle cx="173.32" cy="268.04" r="1.85" fill="#000"/>
<circle cx="176.98" cy="268.70" r="1.85" fill="#000"/>
<circle cx="180.63" cy="268.25" r="1.85" fill="#000"/>
<circle cx="184.29" cy="266.74" r="1.85" fill="#000"/>
<circle cx="187.94" cy="266.80" r="1.85" fill="#000"/>
<circle cx="191.60" cy="268.59" r="1.85" fill="#000"/>
<circle cx="195.25" cy="266.99" r="1.85" fill="#000"/>
<circle cx="198.91" cy="267.19" r="1.85" fill="#000"/>
<circle cx="202.56" cy="266.80" r="1.85" fill="#000"/>
<circle cx="206.22" cy="266.01" r="1.85" fill="#000"/>
<circle cx="209.88" cy="267.16" r="1.85" fill="#000"/>
<circle cx="213.53" cy="269.22" r="1.85" fill="#000"/>
<circle cx="217.19" cy="268.47" r="1.85" fill="#000"/>
<circle cx="220.84" cy="269.28" r="1.85" fill="#000"/>
<circle cx="224.50" cy="267.15" r="1.85" fill="#000"/>
<polyline points="45.40,266.23 49.05,266.58 52.71,266.26 56.36,266.52 60.02,266.48 63.67,267.25 67.33,267.71 70.98,269.30 74.64,268.92 78.29,268.75 81.95,269.61 85.60,268.68 89.26,268.99 92.91,268.28 96.57,268.38 100.22,267.67 103.88,268.32 107.53,268.62 111.19,268.11 114.84,268.39 118.50,268.27 122.16,267.39 125.81,268.34 129.47,268.08 133.12,267.64 136.78,267.24 140.43,268.38 144.08,267.80 147.74,268.12 151.39,268.31 155.05,268.02 158.70,268.25 162.36,267.46 166.01,267.97 169.67,267.41 173.32,268.04 176.98,267.90 180.63,266.75 184.29,266.74 187.94,266.80 191.60,267.79 195.25,266.99 198.91,267.19 202.56,266.80 206.22,267.21 209.88,267.16 213.53,267.22 217.19,267.67 220.84,267.78 224.50,268.35" fill="none" stroke="#000" stroke-width="0.9"/>
<circle cx="45.40" cy="266.23" r="1.50" fill="#fff" stroke="#000" stroke-width="0.95"/>
<circle cx="49.05" cy="266.58" r="1.50" fill="#fff" stroke="#000" stroke-width="0.95"/>
<circle cx="52.71" cy="266.26" r="1.50" fill="#fff" stroke="#000" stroke-width="0.95"/>
<circle cx="56.36" cy="266.52" r="1.50" fill="#fff" stroke="#000" stroke-width="0.95"/>
<circle cx="60.02" cy="266.48" r="1.50" fill="#fff" stroke="#000" stroke-width="0.95"/>
<circle cx="63.67" cy="267.25" r="1.50" fill="#fff" stroke="#000" stroke-width="0.95"/>
<circle cx="67.33" cy="267.71" r="1.50" fill="#fff" stroke="#000" stroke-width="0.95"/>
<circle cx="70.98" cy="269.30" r="1.50" fill="#fff" stroke="#000" stroke-width="0.95"/>
<circle cx="74.64" cy="268.92" r="1.50" fill="#fff" stroke="#000" stroke-width="0.95"/>
<circle cx="78.29" cy="268.75" r="1.50" fill="#fff" stroke="#000" stroke-width="0.95"/>
<circle cx="81.95" cy="269.61" r="1.50" fill="#fff" stroke="#000" stroke-width="0.95"/>
<circle cx="85.60" cy="268.68" r="1.50" fill="#fff" stroke="#000" stroke-width="0.95"/>
<circle cx="89.26" cy="268.99" r="1.50" fill="#fff" stroke="#000" stroke-width="0.95"/>
<circle cx="92.91" cy="268.28" r="1.50" fill="#fff" stroke="#000" stroke-width="0.95"/>
<circle cx="96.57" cy="268.38" r="1.50" fill="#fff" stroke="#000" stroke-width="0.95"/>
<circle cx="100.22" cy="267.67" r="1.50" fill="#fff" stroke="#000" stroke-width="0.95"/>
<circle cx="103.88" cy="268.32" r="1.50" fill="#fff" stroke="#000" stroke-width="0.95"/>
<circle cx="107.53" cy="268.62" r="1.50" fill="#fff" stroke="#000" stroke-width="0.95"/>
<circle cx="111.19" cy="268.11" r="1.50" fill="#fff" stroke="#000" stroke-width="0.95"/>
<circle cx="114.84" cy="268.39" r="1.50" fill="#fff" stroke="#000" stroke-width="0.95"/>
<circle cx="118.50" cy="268.27" r="1.50" fill="#fff" stroke="#000" stroke-width="0.95"/>
<circle cx="122.16" cy="267.39" r="1.50" fill="#fff" stroke="#000" stroke-width="0.95"/>
<circle cx="125.81" cy="268.34" r="1.50" fill="#fff" stroke="#000" stroke-width="0.95"/>
<circle cx="129.47" cy="268.08" r="1.50" fill="#fff" stroke="#000" stroke-width="0.95"/>
<circle cx="133.12" cy="267.64" r="1.50" fill="#fff" stroke="#000" stroke-width="0.95"/>
<circle cx="136.78" cy="267.24" r="1.50" fill="#fff" stroke="#000" stroke-width="0.95"/>
<circle cx="140.43" cy="268.38" r="1.50" fill="#fff" stroke="#000" stroke-width="0.95"/>
<circle cx="144.08" cy="267.80" r="1.50" fill="#fff" stroke="#000" stroke-width="0.95"/>
<circle cx="147.74" cy="268.12" r="1.50" fill="#fff" stroke="#000" stroke-width="0.95"/>
<circle cx="151.39" cy="268.31" r="1.50" fill="#fff" stroke="#000" stroke-width="0.95"/>
<circle cx="155.05" cy="268.02" r="1.50" fill="#fff" stroke="#000" stroke-width="0.95"/>
<circle cx="158.70" cy="268.25" r="1.50" fill="#fff" stroke="#000" stroke-width="0.95"/>
<circle cx="162.36" cy="267.46" r="1.50" fill="#fff" stroke="#000" stroke-width="0.95"/>
<circle cx="166.01" cy="267.97" r="1.50" fill="#fff" stroke="#000" stroke-width="0.95"/>
<circle cx="169.67" cy="267.41" r="1.50" fill="#fff" stroke="#000" stroke-width="0.95"/>
<circle cx="173.32" cy="268.04" r="1.50" fill="#fff" stroke="#000" stroke-width="0.95"/>
<circle cx="176.98" cy="267.90" r="1.50" fill="#fff" stroke="#000" stroke-width="0.95"/>
<circle cx="180.63" cy="266.75" r="1.50" fill="#fff" stroke="#000" stroke-width="0.95"/>
<circle cx="184.29" cy="266.74" r="1.50" fill="#fff" stroke="#000" stroke-width="0.95"/>
<circle cx="187.94" cy="266.80" r="1.50" fill="#fff" stroke="#000" stroke-width="0.95"/>
<circle cx="191.60" cy="267.79" r="1.50" fill="#fff" stroke="#000" stroke-width="0.95"/>
<circle cx="195.25" cy="266.99" r="1.50" fill="#fff" stroke="#000" stroke-width="0.95"/>
<circle cx="198.91" cy="267.19" r="1.50" fill="#fff" stroke="#000" stroke-width="0.95"/>
<circle cx="202.56" cy="266.80" r="1.50" fill="#fff" stroke="#000" stroke-width="0.95"/>
<circle cx="206.22" cy="267.21" r="1.50" fill="#fff" stroke="#000" stroke-width="0.95"/>
<circle cx="209.88" cy="267.16" r="1.50" fill="#fff" stroke="#000" stroke-width="0.95"/>
<circle cx="213.53" cy="267.22" r="1.50" fill="#fff" stroke="#000" stroke-width="0.95"/>
<circle cx="217.19" cy="267.67" r="1.50" fill="#fff" stroke="#000" stroke-width="0.95"/>
<circle cx="220.84" cy="267.78" r="1.50" fill="#fff" stroke="#000" stroke-width="0.95"/>
<circle cx="224.50" cy="268.35" r="1.50" fill="#fff" stroke="#000" stroke-width="0.95"/>
<polyline points="60.02,266.42 63.67,269.18 67.33,266.78 70.98,263.73 74.64,260.54 78.29,254.31 81.95,248.87 85.60,244.72 89.26,239.92 92.91,235.23 96.57,232.89 100.22,234.31 103.88,235.02 107.53,238.10 111.19,238.38 114.84,239.38 118.50,240.22 122.16,242.32 125.81,243.53 129.47,244.29 133.12,242.95 136.78,244.59 140.43,245.48 144.08,247.80 147.74,247.80 151.39,248.50 155.05,249.36 158.70,249.63 162.36,249.47 166.01,252.25 169.67,249.49 173.32,249.39 176.98,249.35 180.63,250.00 184.29,252.49 187.94,253.42 191.60,252.90 195.25,252.59 198.91,253.58 202.56,254.04 206.22,254.20 209.88,254.20 213.53,254.10 217.19,253.92 220.84,255.08 224.50,256.46" fill="none" stroke="#000" stroke-width="0.9"/>
<polygon points="58.41,264.98 61.63,264.98 60.02,268.38" fill="#000" stroke="#000" stroke-width="0.5"/>
<polygon points="62.06,267.75 65.28,267.75 63.67,271.14" fill="#000" stroke="#000" stroke-width="0.5"/>
<polygon points="65.72,265.35 68.94,265.35 67.33,268.74" fill="#000" stroke="#000" stroke-width="0.5"/>
<polygon points="69.38,262.29 72.59,262.29 70.98,265.69" fill="#000" stroke="#000" stroke-width="0.5"/>
<polygon points="73.03,259.10 76.25,259.10 74.64,262.50" fill="#000" stroke="#000" stroke-width="0.5"/>
<polygon points="76.68,252.88 79.90,252.88 78.29,256.27" fill="#000" stroke="#000" stroke-width="0.5"/>
<polygon points="80.34,247.44 83.56,247.44 81.95,250.83" fill="#000" stroke="#000" stroke-width="0.5"/>
<polygon points="83.99,243.29 87.21,243.29 85.60,246.68" fill="#000" stroke="#000" stroke-width="0.5"/>
<polygon points="87.65,238.49 90.87,238.49 89.26,241.88" fill="#000" stroke="#000" stroke-width="0.5"/>
<polygon points="91.30,233.79 94.52,233.79 92.91,237.19" fill="#000" stroke="#000" stroke-width="0.5"/>
<polygon points="94.96,231.45 98.18,231.45 96.57,234.85" fill="#000" stroke="#000" stroke-width="0.5"/>
<polygon points="98.61,232.88 101.83,232.88 100.22,236.27" fill="#000" stroke="#000" stroke-width="0.5"/>
<polygon points="102.27,233.59 105.49,233.59 103.88,236.98" fill="#000" stroke="#000" stroke-width="0.5"/>
<polygon points="105.92,236.67 109.14,236.67 107.53,240.06" fill="#000" stroke="#000" stroke-width="0.5"/>
<polygon points="109.58,236.94 112.80,236.94 111.19,240.34" fill="#000" stroke="#000" stroke-width="0.5"/>
<polygon points="113.23,237.95 116.45,237.95 114.84,241.34" fill="#000" stroke="#000" stroke-width="0.5"/>
<polygon points="116.89,238.78 120.11,238.78 118.50,242.18" fill="#000" stroke="#000" stroke-width="0.5"/>
<polygon points="120.55,240.88 123.77,240.88 122.16,244.28" fill="#000" stroke="#000" stroke-width="0.5"/>
<polygon points="124.20,242.10 127.42,242.10 125.81,245.49" fill="#000" stroke="#000" stroke-width="0.5"/>
<polygon points="127.86,242.86 131.08,242.86 129.47,246.25" fill="#000" stroke="#000" stroke-width="0.5"/>
<polygon points="131.51,241.52 134.73,241.52 133.12,244.91" fill="#000" stroke="#000" stroke-width="0.5"/>
<polygon points="135.16,243.16 138.39,243.16 136.78,246.55" fill="#000" stroke="#000" stroke-width="0.5"/>
<polygon points="138.82,244.05 142.04,244.05 140.43,247.44" fill="#000" stroke="#000" stroke-width="0.5"/>
<polygon points="142.47,246.37 145.69,246.37 144.08,249.76" fill="#000" stroke="#000" stroke-width="0.5"/>
<polygon points="146.13,246.37 149.35,246.37 147.74,249.76" fill="#000" stroke="#000" stroke-width="0.5"/>
<polygon points="149.78,247.06 153.00,247.06 151.39,250.46" fill="#000" stroke="#000" stroke-width="0.5"/>
<polygon points="153.44,247.92 156.66,247.92 155.05,251.32" fill="#000" stroke="#000" stroke-width="0.5"/>
<polygon points="157.09,248.19 160.31,248.19 158.70,251.59" fill="#000" stroke="#000" stroke-width="0.5"/>
<polygon points="160.75,248.04 163.97,248.04 162.36,251.43" fill="#000" stroke="#000" stroke-width="0.5"/>
<polygon points="164.40,250.82 167.62,250.82 166.01,254.21" fill="#000" stroke="#000" stroke-width="0.5"/>
<polygon points="168.06,248.05 171.28,248.05 169.67,251.45" fill="#000" stroke="#000" stroke-width="0.5"/>
<polygon points="171.71,247.95 174.94,247.95 173.32,251.35" fill="#000" stroke="#000" stroke-width="0.5"/>
<polygon points="175.37,247.91 178.59,247.91 176.98,251.31" fill="#000" stroke="#000" stroke-width="0.5"/>
<polygon points="179.02,248.57 182.25,248.57 180.63,251.96" fill="#000" stroke="#000" stroke-width="0.5"/>
<polygon points="182.68,251.06 185.90,251.06 184.29,254.45" fill="#000" stroke="#000" stroke-width="0.5"/>
<polygon points="186.33,251.99 189.56,251.99 187.94,255.38" fill="#000" stroke="#000" stroke-width="0.5"/>
<polygon points="189.99,251.47 193.21,251.47 191.60,254.86" fill="#000" stroke="#000" stroke-width="0.5"/>
<polygon points="193.64,251.16 196.87,251.16 195.25,254.55" fill="#000" stroke="#000" stroke-width="0.5"/>
<polygon points="197.30,252.14 200.52,252.14 198.91,255.54" fill="#000" stroke="#000" stroke-width="0.5"/>
<polygon points="200.95,252.61 204.18,252.61 202.56,256.00" fill="#000" stroke="#000" stroke-width="0.5"/>
<polygon points="204.61,252.76 207.83,252.76 206.22,256.16" fill="#000" stroke="#000" stroke-width="0.5"/>
<polygon points="208.26,252.76 211.49,252.76 209.88,256.16" fill="#000" stroke="#000" stroke-width="0.5"/>
<polygon points="211.92,252.67 215.14,252.67 213.53,256.06" fill="#000" stroke="#000" stroke-width="0.5"/>
<polygon points="215.57,252.49 218.80,252.49 217.19,255.88" fill="#000" stroke="#000" stroke-width="0.5"/>
<polygon points="219.23,253.65 222.45,253.65 220.84,257.04" fill="#000" stroke="#000" stroke-width="0.5"/>
<polygon points="222.88,255.03 226.11,255.03 224.50,258.42" fill="#000" stroke="#000" stroke-width="0.5"/>
<polyline points="60.02,266.28 63.67,245.24 67.33,224.09 70.98,210.73 74.64,199.76 78.29,194.34 81.95,192.01 85.60,192.83 89.26,199.33 92.91,201.35 96.57,205.42 100.22,207.95 103.88,212.24 107.53,214.56 111.19,219.90 114.84,219.90 118.50,223.37 122.16,224.55 125.81,228.06 129.47,229.49 133.12,228.29 136.78,231.46 140.43,232.97 144.08,233.72 147.74,234.53 151.39,235.81 155.05,237.65 158.70,239.45 162.36,241.22 166.01,242.86 169.67,243.82 173.32,244.77 176.98,245.62 180.63,246.46 184.29,247.09 187.94,247.71 191.60,247.29 195.25,246.57 198.91,246.33 202.56,250.11 206.22,248.97 209.88,249.96 213.53,251.01 217.19,252.10 220.84,252.94 224.50,253.48" fill="none" stroke="#000" stroke-width="0.9"/>
<polygon points="58.41,264.85 61.63,264.85 60.02,268.24" fill="#fff" stroke="#000" stroke-width="0.8"/>
<polygon points="62.06,243.81 65.28,243.81 63.67,247.20" fill="#fff" stroke="#000" stroke-width="0.8"/>
<polygon points="65.72,222.65 68.94,222.65 67.33,226.05" fill="#fff" stroke="#000" stroke-width="0.8"/>
<polygon points="69.38,209.30 72.59,209.30 70.98,212.69" fill="#fff" stroke="#000" stroke-width="0.8"/>
<polygon points="73.03,198.33 76.25,198.33 74.64,201.72" fill="#fff" stroke="#000" stroke-width="0.8"/>
<polygon points="76.68,192.91 79.90,192.91 78.29,196.30" fill="#fff" stroke="#000" stroke-width="0.8"/>
<polygon points="80.34,190.58 83.56,190.58 81.95,193.97" fill="#fff" stroke="#000" stroke-width="0.8"/>
<polygon points="83.99,191.40 87.21,191.40 85.60,194.79" fill="#fff" stroke="#000" stroke-width="0.8"/>
<polygon points="87.65,197.90 90.87,197.90 89.26,201.29" fill="#fff" stroke="#000" stroke-width="0.8"/>
<polygon points="91.30,199.92 94.52,199.92 92.91,203.31" fill="#fff" stroke="#000" stroke-width="0.8"/>
<polygon points="94.96,203.98 98.18,203.98 96.57,207.38" fill="#fff" stroke="#000" stroke-width="0.8"/>
<polygon points="98.61,206.51 101.83,206.51 100.22,209.91" fill="#fff" stroke="#000" stroke-width="0.8"/>
<polygon points="102.27,210.81 105.49,210.81 103.88,214.20" fill="#fff" stroke="#000" stroke-width="0.8"/>
<polygon points="105.92,213.12 109.14,213.12 107.53,216.52" fill="#fff" stroke="#000" stroke-width="0.8"/>
<polygon points="109.58,218.47 112.80,218.47 111.19,221.86" fill="#fff" stroke="#000" stroke-width="0.8"/>
<polygon points="113.23,218.47 116.45,218.47 114.84,221.86" fill="#fff" stroke="#000" stroke-width="0.8"/>
<polygon points="116.89,221.93 120.11,221.93 118.50,225.33" fill="#fff" stroke="#000" stroke-width="0.8"/>
<polygon points="120.55,223.12 123.77,223.12 122.16,226.51" fill="#fff" stroke="#000" stroke-width="0.8"/>
<polygon points="124.20,226.62 127.42,226.62 125.81,230.02" fill="#fff" stroke="#000" stroke-width="0.8"/>
<polygon points="127.86,228.06 131.08,228.06 129.47,231.45" fill="#fff" stroke="#000" stroke-width="0.8"/>
<polygon points="131.51,226.86 134.73,226.86 133.12,230.25" fill="#fff" stroke="#000" stroke-width="0.8"/>
<polygon points="135.16,230.02 138.39,230.02 136.78,233.42" fill="#fff" stroke="#000" stroke-width="0.8"/>
<polygon points="138.82,231.54 142.04,231.54 140.43,234.93" fill="#fff" stroke="#000" stroke-width="0.8"/>
<polygon points="142.47,232.28 145.69,232.28 144.08,235.68" fill="#fff" stroke="#000" stroke-width="0.8"/>
<polygon points="146.13,233.09 149.35,233.09 147.74,236.49" fill="#fff" stroke="#000" stroke-width="0.8"/>
<polygon points="149.78,234.37 153.00,234.37 151.39,237.77" fill="#fff" stroke="#000" stroke-width="0.8"/>
<polygon points="153.44,236.22 156.66,236.22 155.05,239.61" fill="#fff" stroke="#000" stroke-width="0.8"/>
<polygon points="157.09,238.02 160.31,238.02 158.70,241.41" fill="#fff" stroke="#000" stroke-width="0.8"/>
<polygon points="160.75,239.79 163.97,239.79 162.36,243.18" fill="#fff" stroke="#000" stroke-width="0.8"/>
<polygon points="164.40,241.43 167.62,241.43 166.01,244.82" fill="#fff" stroke="#000" stroke-width="0.8"/>
<polygon points="168.06,242.39 171.28,242.39 169.67,245.78" fill="#fff" stroke="#000" stroke-width="0.8"/>
<polygon points="171.71,243.34 174.94,243.34 173.32,246.73" fill="#fff" stroke="#000" stroke-width="0.8"/>
<polygon points="175.37,244.18 178.59,244.18 176.98,247.58" fill="#fff" stroke="#000" stroke-width="0.8"/>
<polygon points="179.02,245.03 182.25,245.03 180.63,248.42" fill="#fff" stroke="#000" stroke-width="0.8"/>
<polygon points="182.68,245.65 185.90,245.65 184.29,249.05" fill="#fff" stroke="#000" stroke-width="0.8"/>
<polygon points="186.33,246.27 189.56,246.27 187.94,249.67" fill="#fff" stroke="#000" stroke-width="0.8"/>
<polygon points="189.99,245.86 193.21,245.86 191.60,249.25" fill="#fff" stroke="#000" stroke-width="0.8"/>
<polygon points="193.64,245.13 196.87,245.13 195.25,248.53" fill="#fff" stroke="#000" stroke-width="0.8"/>
<polygon points="197.30,244.90 200.52,244.90 198.91,248.29" fill="#fff" stroke="#000" stroke-width="0.8"/>
<polygon points="200.95,248.68 204.18,248.68 202.56,252.07" fill="#fff" stroke="#000" stroke-width="0.8"/>
<polygon points="204.61,247.53 207.83,247.53 206.22,250.93" fill="#fff" stroke="#000" stroke-width="0.8"/>
<polygon points="208.26,248.52 211.49,248.52 209.88,251.92" fill="#fff" stroke="#000" stroke-width="0.8"/>
<polygon points="211.92,249.57 215.14,249.57 213.53,252.97" fill="#fff" stroke="#000" stroke-width="0.8"/>
<polygon points="215.57,250.66 218.80,250.66 217.19,254.06" fill="#fff" stroke="#000" stroke-width="0.8"/>
<polygon points="219.23,251.51 222.45,251.51 220.84,254.90" fill="#fff" stroke="#000" stroke-width="0.8"/>
<polygon points="222.88,252.05 226.11,252.05 224.50,255.44" fill="#fff" stroke="#000" stroke-width="0.8"/>
<line x1="51.2" y1="251.7" x2="58.4" y2="261.5" stroke="#000" stroke-width="0.9"/>
<polygon points="58.40,261.50 54.23,258.86 57.13,256.73" fill="#000"/>
<rect x="295.3" y="169.7" width="218.2" height="122.90000000000003" fill="none" stroke="#111" stroke-width="1.25"/>
<text x="0" y="0" font-size="10.1" font-weight="normal" text-anchor="end" fill="#000" stroke="#000" stroke-width="0.12" transform="translate(291.0,296.40000000000003) scale(0.78,1)">1.0</text>
<line x1="295.3" y1="275.04" x2="300.6" y2="275.04" stroke="#111" stroke-width="1"/>
<text x="0" y="0" font-size="10.1" font-weight="normal" text-anchor="end" fill="#000" stroke="#000" stroke-width="0.12" transform="translate(291.0,278.84285714285716) scale(0.78,1)">1.5</text>
<line x1="295.3" y1="257.49" x2="300.6" y2="257.49" stroke="#111" stroke-width="1"/>
<text x="0" y="0" font-size="10.1" font-weight="normal" text-anchor="end" fill="#000" stroke="#000" stroke-width="0.12" transform="translate(291.0,261.28571428571433) scale(0.78,1)">2.0</text>
<line x1="295.3" y1="239.93" x2="300.6" y2="239.93" stroke="#111" stroke-width="1"/>
<text x="0" y="0" font-size="10.1" font-weight="normal" text-anchor="end" fill="#000" stroke="#000" stroke-width="0.12" transform="translate(291.0,243.72857142857146) scale(0.78,1)">2.5</text>
<line x1="295.3" y1="222.37" x2="300.6" y2="222.37" stroke="#111" stroke-width="1"/>
<text x="0" y="0" font-size="10.1" font-weight="normal" text-anchor="end" fill="#000" stroke="#000" stroke-width="0.12" transform="translate(291.0,226.17142857142858) scale(0.78,1)">3.0</text>
<line x1="295.3" y1="204.81" x2="300.6" y2="204.81" stroke="#111" stroke-width="1"/>
<text x="0" y="0" font-size="10.1" font-weight="normal" text-anchor="end" fill="#000" stroke="#000" stroke-width="0.12" transform="translate(291.0,208.61428571428573) scale(0.78,1)">3.5</text>
<line x1="295.3" y1="187.26" x2="300.6" y2="187.26" stroke="#111" stroke-width="1"/>
<text x="0" y="0" font-size="10.1" font-weight="normal" text-anchor="end" fill="#000" stroke="#000" stroke-width="0.12" transform="translate(291.0,191.05714285714288) scale(0.78,1)">4.0</text>
<text x="0" y="0" font-size="10.1" font-weight="normal" text-anchor="end" fill="#000" stroke="#000" stroke-width="0.12" transform="translate(291.0,173.5) scale(0.78,1)">4.5</text>
<text x="0" y="0" font-size="10.1" font-weight="normal" text-anchor="middle" fill="#000" stroke="#000" stroke-width="0.12" transform="translate(296.1,304.90000000000003) scale(0.78,1)">0</text>
<line x1="349.85" y1="292.6" x2="349.85" y2="287.40000000000003" stroke="#111" stroke-width="1"/>
<text x="0" y="0" font-size="10.1" font-weight="normal" text-anchor="middle" fill="#000" stroke="#000" stroke-width="0.12" transform="translate(350.65000000000003,304.90000000000003) scale(0.78,1)">5</text>
<line x1="404.40" y1="292.6" x2="404.40" y2="287.40000000000003" stroke="#111" stroke-width="1"/>
<text x="0" y="0" font-size="10.1" font-weight="normal" text-anchor="middle" fill="#000" stroke="#000" stroke-width="0.12" transform="translate(405.2,304.90000000000003) scale(0.78,1)">10</text>
<line x1="458.95" y1="292.6" x2="458.95" y2="287.40000000000003" stroke="#111" stroke-width="1"/>
<text x="0" y="0" font-size="10.1" font-weight="normal" text-anchor="middle" fill="#000" stroke="#000" stroke-width="0.12" transform="translate(459.75000000000006,304.90000000000003) scale(0.78,1)">15</text>
<text x="0" y="0" font-size="10.1" font-weight="normal" text-anchor="middle" fill="#000" stroke="#000" stroke-width="0.12" transform="translate(514.3,304.90000000000003) scale(0.78,1)">20</text>
<text x="0" y="0" font-size="17.6" font-weight="bold" text-anchor="start" fill="#000" transform="translate(299.8,166.9) scale(1.0,1)">D</text>
<text x="0" y="0" font-size="10.0" font-weight="bold" text-anchor="start" fill="#000" transform="translate(315.9,182.3) scale(1.0,1)">BMMC</text>
<polyline points="452.80,177.80 473.60,177.80" fill="none" stroke="#333" stroke-width="1.1"/>
<circle cx="463.20" cy="177.80" r="1.90" fill="#000"/>
<text x="0" y="0" font-size="8.6" font-weight="normal" text-anchor="start" fill="#000" stroke="#000" stroke-width="0.35" transform="translate(477.0,180.8) scale(0.81,1)">NS</text>
<polyline points="452.80,187.40 473.60,187.40" fill="none" stroke="#555" stroke-width="0.85"/>
<circle cx="463.20" cy="187.40" r="1.55" fill="#fff" stroke="#000" stroke-width="0.95"/>
<text x="0" y="0" font-size="8.6" font-weight="normal" text-anchor="start" fill="#000" stroke="#000" stroke-width="0.35" transform="translate(477.0,190.4) scale(0.81,1)">LPS</text>
<polyline points="452.80,196.30 473.60,196.30" fill="none" stroke="#333" stroke-width="0.95" stroke-dasharray="5.6,1"/>
<polygon points="461.59,194.87 464.81,194.87 463.20,198.26" fill="#000" stroke="#000" stroke-width="0.5"/>
<text x="0" y="0" font-size="8.6" font-weight="normal" text-anchor="start" fill="#000" stroke="#000" stroke-width="0.35" transform="translate(477.0,199.3) scale(0.81,1)">Ag + LPS</text>
<polyline points="452.80,205.30 473.60,205.30" fill="none" stroke="#444" stroke-width="0.9" stroke-dasharray="7.5,0.8"/>
<polygon points="461.59,203.87 464.81,203.87 463.20,207.26" fill="#fff" stroke="#000" stroke-width="0.8"/>
<text x="0" y="0" font-size="8.6" font-weight="normal" text-anchor="start" fill="#000" stroke="#000" stroke-width="0.35" transform="translate(477.0,208.3) scale(0.81,1)">Ag</text>
<polyline points="297.50,270.80 302.96,271.70 308.41,270.50 313.87,271.30 319.33,270.50 324.79,271.17 330.24,271.34 335.70,271.41 341.16,273.62 346.61,270.14 352.07,271.59 357.53,271.14 362.98,270.95 368.44,272.42 373.90,272.01 379.36,273.06 384.81,270.46 390.27,270.96 395.73,272.15 401.18,271.06 406.64,272.60 412.10,272.32 417.55,270.60 423.01,272.69 428.47,272.38 433.92,272.17 439.38,269.32 444.84,272.22 450.30,270.49 455.75,273.16 461.21,270.48 466.67,272.30 472.12,273.02 477.58,272.09 483.04,269.40 488.50,271.68 493.95,271.52 499.41,270.71" fill="none" stroke="#000" stroke-width="0.9"/>
<circle cx="297.50" cy="270.80" r="1.85" fill="#000"/>
<circle cx="302.96" cy="271.70" r="1.85" fill="#000"/>
<circle cx="308.41" cy="270.50" r="1.85" fill="#000"/>
<circle cx="313.87" cy="271.30" r="1.85" fill="#000"/>
<circle cx="319.33" cy="270.50" r="1.85" fill="#000"/>
<circle cx="324.79" cy="271.17" r="1.85" fill="#000"/>
<circle cx="330.24" cy="271.34" r="1.85" fill="#000"/>
<circle cx="335.70" cy="271.41" r="1.85" fill="#000"/>
<circle cx="341.16" cy="273.62" r="1.85" fill="#000"/>
<circle cx="346.61" cy="270.14" r="1.85" fill="#000"/>
<circle cx="352.07" cy="271.59" r="1.85" fill="#000"/>
<circle cx="357.53" cy="271.14" r="1.85" fill="#000"/>
<circle cx="362.98" cy="270.95" r="1.85" fill="#000"/>
<circle cx="368.44" cy="272.42" r="1.85" fill="#000"/>
<circle cx="373.90" cy="272.01" r="1.85" fill="#000"/>
<circle cx="379.36" cy="273.06" r="1.85" fill="#000"/>
<circle cx="384.81" cy="270.46" r="1.85" fill="#000"/>
<circle cx="390.27" cy="270.96" r="1.85" fill="#000"/>
<circle cx="395.73" cy="272.15" r="1.85" fill="#000"/>
<circle cx="401.18" cy="271.06" r="1.85" fill="#000"/>
<circle cx="406.64" cy="272.60" r="1.85" fill="#000"/>
<circle cx="412.10" cy="272.32" r="1.85" fill="#000"/>
<circle cx="417.55" cy="270.60" r="1.85" fill="#000"/>
<circle cx="423.01" cy="272.69" r="1.85" fill="#000"/>
<circle cx="428.47" cy="272.38" r="1.85" fill="#000"/>
<circle cx="433.92" cy="272.17" r="1.85" fill="#000"/>
<circle cx="439.38" cy="269.32" r="1.85" fill="#000"/>
<circle cx="444.84" cy="272.22" r="1.85" fill="#000"/>
<circle cx="450.30" cy="270.49" r="1.85" fill="#000"/>
<circle cx="455.75" cy="273.16" r="1.85" fill="#000"/>
<circle cx="461.21" cy="270.48" r="1.85" fill="#000"/>
<circle cx="466.67" cy="272.30" r="1.85" fill="#000"/>
<circle cx="472.12" cy="273.02" r="1.85" fill="#000"/>
<circle cx="477.58" cy="272.09" r="1.85" fill="#000"/>
<circle cx="483.04" cy="269.40" r="1.85" fill="#000"/>
<circle cx="488.50" cy="271.68" r="1.85" fill="#000"/>
<circle cx="493.95" cy="271.52" r="1.85" fill="#000"/>
<circle cx="499.41" cy="270.71" r="1.85" fill="#000"/>
<polyline points="297.50,266.20 302.96,264.80 308.41,266.70 313.87,267.30 319.33,266.20 324.79,271.17 330.24,271.34 335.70,271.41 341.16,271.62 346.61,271.34 352.07,271.59 357.53,270.34 362.98,270.95 368.44,271.62 373.90,271.21 379.36,271.56 384.81,270.46 390.27,270.96 395.73,270.65 401.18,271.06 406.64,271.10 412.10,270.32 417.55,270.60 423.01,270.69 428.47,271.58 433.92,271.37 439.38,270.52 444.84,271.42 450.30,270.49 455.75,271.16 461.21,270.48 466.67,270.30 472.12,271.52 477.58,270.59 483.04,270.60 488.50,271.68 493.95,271.52 499.41,270.71" fill="none" stroke="#000" stroke-width="0.9"/>
<circle cx="297.50" cy="266.20" r="1.50" fill="#fff" stroke="#000" stroke-width="0.95"/>
<circle cx="302.96" cy="264.80" r="1.50" fill="#fff" stroke="#000" stroke-width="0.95"/>
<circle cx="308.41" cy="266.70" r="1.50" fill="#fff" stroke="#000" stroke-width="0.95"/>
<circle cx="313.87" cy="267.30" r="1.50" fill="#fff" stroke="#000" stroke-width="0.95"/>
<circle cx="319.33" cy="266.20" r="1.50" fill="#fff" stroke="#000" stroke-width="0.95"/>
<circle cx="324.79" cy="271.17" r="1.50" fill="#fff" stroke="#000" stroke-width="0.95"/>
<circle cx="330.24" cy="271.34" r="1.50" fill="#fff" stroke="#000" stroke-width="0.95"/>
<circle cx="335.70" cy="271.41" r="1.50" fill="#fff" stroke="#000" stroke-width="0.95"/>
<circle cx="341.16" cy="271.62" r="1.50" fill="#fff" stroke="#000" stroke-width="0.95"/>
<circle cx="346.61" cy="271.34" r="1.50" fill="#fff" stroke="#000" stroke-width="0.95"/>
<circle cx="352.07" cy="271.59" r="1.50" fill="#fff" stroke="#000" stroke-width="0.95"/>
<circle cx="357.53" cy="270.34" r="1.50" fill="#fff" stroke="#000" stroke-width="0.95"/>
<circle cx="362.98" cy="270.95" r="1.50" fill="#fff" stroke="#000" stroke-width="0.95"/>
<circle cx="368.44" cy="271.62" r="1.50" fill="#fff" stroke="#000" stroke-width="0.95"/>
<circle cx="373.90" cy="271.21" r="1.50" fill="#fff" stroke="#000" stroke-width="0.95"/>
<circle cx="379.36" cy="271.56" r="1.50" fill="#fff" stroke="#000" stroke-width="0.95"/>
<circle cx="384.81" cy="270.46" r="1.50" fill="#fff" stroke="#000" stroke-width="0.95"/>
<circle cx="390.27" cy="270.96" r="1.50" fill="#fff" stroke="#000" stroke-width="0.95"/>
<circle cx="395.73" cy="270.65" r="1.50" fill="#fff" stroke="#000" stroke-width="0.95"/>
<circle cx="401.18" cy="271.06" r="1.50" fill="#fff" stroke="#000" stroke-width="0.95"/>
<circle cx="406.64" cy="271.10" r="1.50" fill="#fff" stroke="#000" stroke-width="0.95"/>
<circle cx="412.10" cy="270.32" r="1.50" fill="#fff" stroke="#000" stroke-width="0.95"/>
<circle cx="417.55" cy="270.60" r="1.50" fill="#fff" stroke="#000" stroke-width="0.95"/>
<circle cx="423.01" cy="270.69" r="1.50" fill="#fff" stroke="#000" stroke-width="0.95"/>
<circle cx="428.47" cy="271.58" r="1.50" fill="#fff" stroke="#000" stroke-width="0.95"/>
<circle cx="433.92" cy="271.37" r="1.50" fill="#fff" stroke="#000" stroke-width="0.95"/>
<circle cx="439.38" cy="270.52" r="1.50" fill="#fff" stroke="#000" stroke-width="0.95"/>
<circle cx="444.84" cy="271.42" r="1.50" fill="#fff" stroke="#000" stroke-width="0.95"/>
<circle cx="450.30" cy="270.49" r="1.50" fill="#fff" stroke="#000" stroke-width="0.95"/>
<circle cx="455.75" cy="271.16" r="1.50" fill="#fff" stroke="#000" stroke-width="0.95"/>
<circle cx="461.21" cy="270.48" r="1.50" fill="#fff" stroke="#000" stroke-width="0.95"/>
<circle cx="466.67" cy="270.30" r="1.50" fill="#fff" stroke="#000" stroke-width="0.95"/>
<circle cx="472.12" cy="271.52" r="1.50" fill="#fff" stroke="#000" stroke-width="0.95"/>
<circle cx="477.58" cy="270.59" r="1.50" fill="#fff" stroke="#000" stroke-width="0.95"/>
<circle cx="483.04" cy="270.60" r="1.50" fill="#fff" stroke="#000" stroke-width="0.95"/>
<circle cx="488.50" cy="271.68" r="1.50" fill="#fff" stroke="#000" stroke-width="0.95"/>
<circle cx="493.95" cy="271.52" r="1.50" fill="#fff" stroke="#000" stroke-width="0.95"/>
<circle cx="499.41" cy="270.71" r="1.50" fill="#fff" stroke="#000" stroke-width="0.95"/>
<polyline points="319.33,266.10 324.79,246.42 330.24,217.43 335.70,198.28 341.16,194.35 346.61,198.96 352.07,201.40 357.53,210.50 362.98,212.27 368.44,221.40 373.90,224.61 379.36,225.50 384.81,228.89 390.27,231.10 395.73,233.12 401.18,233.50 406.64,236.36 412.10,238.80 417.55,240.53 423.01,239.70 428.47,241.10 433.92,244.06 439.38,244.60 444.84,245.61 450.30,246.62 455.75,247.23 461.21,248.25 466.67,249.59 472.12,248.63 477.58,250.90 483.04,251.49 488.50,252.52 493.95,253.40 499.41,253.80" fill="none" stroke="#000" stroke-width="0.9"/>
<polygon points="317.72,264.66 320.94,264.66 319.33,268.06" fill="#000" stroke="#000" stroke-width="0.5"/>
<polygon points="323.18,244.98 326.40,244.98 324.79,248.38" fill="#000" stroke="#000" stroke-width="0.5"/>
<polygon points="328.63,215.99 331.85,215.99 330.24,219.39" fill="#000" stroke="#000" stroke-width="0.5"/>
<polygon points="334.09,196.84 337.31,196.84 335.70,200.24" fill="#000" stroke="#000" stroke-width="0.5"/>
<polygon points="339.55,192.91 342.77,192.91 341.16,196.31" fill="#000" stroke="#000" stroke-width="0.5"/>
<polygon points="345.00,197.52 348.22,197.52 346.61,200.92" fill="#000" stroke="#000" stroke-width="0.5"/>
<polygon points="350.46,199.97 353.68,199.97 352.07,203.36" fill="#000" stroke="#000" stroke-width="0.5"/>
<polygon points="355.92,209.07 359.14,209.07 357.53,212.46" fill="#000" stroke="#000" stroke-width="0.5"/>
<polygon points="361.37,210.83 364.59,210.83 362.98,214.23" fill="#000" stroke="#000" stroke-width="0.5"/>
<polygon points="366.83,219.96 370.05,219.96 368.44,223.36" fill="#000" stroke="#000" stroke-width="0.5"/>
<polygon points="372.29,223.18 375.51,223.18 373.90,226.57" fill="#000" stroke="#000" stroke-width="0.5"/>
<polygon points="377.75,224.06 380.97,224.06 379.36,227.46" fill="#000" stroke="#000" stroke-width="0.5"/>
<polygon points="383.20,227.45 386.42,227.45 384.81,230.85" fill="#000" stroke="#000" stroke-width="0.5"/>
<polygon points="388.66,229.67 391.88,229.67 390.27,233.06" fill="#000" stroke="#000" stroke-width="0.5"/>
<polygon points="394.12,231.68 397.34,231.68 395.73,235.08" fill="#000" stroke="#000" stroke-width="0.5"/>
<polygon points="399.57,232.06 402.79,232.06 401.18,235.46" fill="#000" stroke="#000" stroke-width="0.5"/>
<polygon points="405.03,234.92 408.25,234.92 406.64,238.32" fill="#000" stroke="#000" stroke-width="0.5"/>
<polygon points="410.49,237.36 413.71,237.36 412.10,240.76" fill="#000" stroke="#000" stroke-width="0.5"/>
<polygon points="415.94,239.10 419.16,239.10 417.55,242.49" fill="#000" stroke="#000" stroke-width="0.5"/>
<polygon points="421.40,238.27 424.62,238.27 423.01,241.66" fill="#000" stroke="#000" stroke-width="0.5"/>
<polygon points="426.86,239.67 430.08,239.67 428.47,243.06" fill="#000" stroke="#000" stroke-width="0.5"/>
<polygon points="432.31,242.63 435.53,242.63 433.92,246.02" fill="#000" stroke="#000" stroke-width="0.5"/>
<polygon points="437.77,243.16 440.99,243.16 439.38,246.56" fill="#000" stroke="#000" stroke-width="0.5"/>
<polygon points="443.23,244.17 446.45,244.17 444.84,247.57" fill="#000" stroke="#000" stroke-width="0.5"/>
<polygon points="448.69,245.19 451.91,245.19 450.30,248.58" fill="#000" stroke="#000" stroke-width="0.5"/>
<polygon points="454.14,245.79 457.36,245.79 455.75,249.19" fill="#000" stroke="#000" stroke-width="0.5"/>
<polygon points="459.60,246.82 462.82,246.82 461.21,250.21" fill="#000" stroke="#000" stroke-width="0.5"/>
<polygon points="465.06,248.16 468.28,248.16 466.67,251.55" fill="#000" stroke="#000" stroke-width="0.5"/>
<polygon points="470.51,247.20 473.73,247.20 472.12,250.59" fill="#000" stroke="#000" stroke-width="0.5"/>
<polygon points="475.97,249.47 479.19,249.47 477.58,252.86" fill="#000" stroke="#000" stroke-width="0.5"/>
<polygon points="481.43,250.05 484.65,250.05 483.04,253.45" fill="#000" stroke="#000" stroke-width="0.5"/>
<polygon points="486.88,251.09 490.11,251.09 488.50,254.48" fill="#000" stroke="#000" stroke-width="0.5"/>
<polygon points="492.34,251.97 495.56,251.97 493.95,255.36" fill="#000" stroke="#000" stroke-width="0.5"/>
<polygon points="497.80,252.37 501.02,252.37 499.41,255.76" fill="#000" stroke="#000" stroke-width="0.5"/>
<polyline points="319.33,265.96 324.79,218.84 330.24,192.28 335.70,187.19 341.16,194.64 346.61,198.97 352.07,203.60 357.53,211.25 362.98,214.53 368.44,223.01 373.90,224.66 379.36,227.74 384.81,229.29 390.27,231.73 395.73,236.26 401.18,237.23 406.64,238.03 412.10,239.80 417.55,241.75 423.01,239.77 428.47,242.11 433.92,245.42 439.38,245.60 444.84,246.51 450.30,247.99 455.75,247.85 461.21,249.64 466.67,250.59 472.12,249.83 477.58,252.49 483.04,252.21 488.50,253.59 493.95,254.21 499.41,255.30" fill="none" stroke="#000" stroke-width="0.9"/>
<polygon points="317.72,264.52 320.94,264.52 319.33,267.92" fill="#fff" stroke="#000" stroke-width="0.8"/>
<polygon points="323.18,217.40 326.40,217.40 324.79,220.80" fill="#fff" stroke="#000" stroke-width="0.8"/>
<polygon points="328.63,190.85 331.85,190.85 330.24,194.24" fill="#fff" stroke="#000" stroke-width="0.8"/>
<polygon points="334.09,185.75 337.31,185.75 335.70,189.15" fill="#fff" stroke="#000" stroke-width="0.8"/>
<polygon points="339.55,193.21 342.77,193.21 341.16,196.60" fill="#fff" stroke="#000" stroke-width="0.8"/>
<polygon points="345.00,197.54 348.22,197.54 346.61,200.93" fill="#fff" stroke="#000" stroke-width="0.8"/>
<polygon points="350.46,202.17 353.68,202.17 352.07,205.56" fill="#fff" stroke="#000" stroke-width="0.8"/>
<polygon points="355.92,209.82 359.14,209.82 357.53,213.21" fill="#fff" stroke="#000" stroke-width="0.8"/>
<polygon points="361.37,213.10 364.59,213.10 362.98,216.49" fill="#fff" stroke="#000" stroke-width="0.8"/>
<polygon points="366.83,221.57 370.05,221.57 368.44,224.97" fill="#fff" stroke="#000" stroke-width="0.8"/>
<polygon points="372.29,223.22 375.51,223.22 373.90,226.62" fill="#fff" stroke="#000" stroke-width="0.8"/>
<polygon points="377.75,226.31 380.97,226.31 379.36,229.70" fill="#fff" stroke="#000" stroke-width="0.8"/>
<polygon points="383.20,227.86 386.42,227.86 384.81,231.25" fill="#fff" stroke="#000" stroke-width="0.8"/>
<polygon points="388.66,230.30 391.88,230.30 390.27,233.69" fill="#fff" stroke="#000" stroke-width="0.8"/>
<polygon points="394.12,234.82 397.34,234.82 395.73,238.22" fill="#fff" stroke="#000" stroke-width="0.8"/>
<polygon points="399.57,235.79 402.79,235.79 401.18,239.19" fill="#fff" stroke="#000" stroke-width="0.8"/>
<polygon points="405.03,236.60 408.25,236.60 406.64,239.99" fill="#fff" stroke="#000" stroke-width="0.8"/>
<polygon points="410.49,238.36 413.71,238.36 412.10,241.76" fill="#fff" stroke="#000" stroke-width="0.8"/>
<polygon points="415.94,240.31 419.16,240.31 417.55,243.71" fill="#fff" stroke="#000" stroke-width="0.8"/>
<polygon points="421.40,238.34 424.62,238.34 423.01,241.73" fill="#fff" stroke="#000" stroke-width="0.8"/>
<polygon points="426.86,240.68 430.08,240.68 428.47,244.07" fill="#fff" stroke="#000" stroke-width="0.8"/>
<polygon points="432.31,243.99 435.53,243.99 433.92,247.38" fill="#fff" stroke="#000" stroke-width="0.8"/>
<polygon points="437.77,244.16 440.99,244.16 439.38,247.56" fill="#fff" stroke="#000" stroke-width="0.8"/>
<polygon points="443.23,245.08 446.45,245.08 444.84,248.47" fill="#fff" stroke="#000" stroke-width="0.8"/>
<polygon points="448.69,246.56 451.91,246.56 450.30,249.95" fill="#fff" stroke="#000" stroke-width="0.8"/>
<polygon points="454.14,246.42 457.36,246.42 455.75,249.81" fill="#fff" stroke="#000" stroke-width="0.8"/>
<polygon points="459.60,248.20 462.82,248.20 461.21,251.60" fill="#fff" stroke="#000" stroke-width="0.8"/>
<polygon points="465.06,249.16 468.28,249.16 466.67,252.55" fill="#fff" stroke="#000" stroke-width="0.8"/>
<polygon points="470.51,248.39 473.73,248.39 472.12,251.79" fill="#fff" stroke="#000" stroke-width="0.8"/>
<polygon points="475.97,251.05 479.19,251.05 477.58,254.45" fill="#fff" stroke="#000" stroke-width="0.8"/>
<polygon points="481.43,250.78 484.65,250.78 483.04,254.17" fill="#fff" stroke="#000" stroke-width="0.8"/>
<polygon points="486.88,252.16 490.11,252.16 488.50,255.55" fill="#fff" stroke="#000" stroke-width="0.8"/>
<polygon points="492.34,252.78 495.56,252.78 493.95,256.17" fill="#fff" stroke="#000" stroke-width="0.8"/>
<polygon points="497.80,253.87 501.02,253.87 499.41,257.26" fill="#fff" stroke="#000" stroke-width="0.8"/>
<line x1="309.0" y1="252.2" x2="316.7" y2="262.7" stroke="#000" stroke-width="0.9"/>
<polygon points="316.70,262.70 312.53,260.05 315.43,257.93" fill="#000"/>
<rect x="44.0" y="319.7" width="218.2" height="131.3" fill="none" stroke="#111" stroke-width="1.25"/>
<text x="0" y="0" font-size="10.1" font-weight="normal" text-anchor="end" fill="#000" stroke="#000" stroke-width="0.12" transform="translate(39.7,454.8) scale(0.78,1)">1.0</text>
<line x1="44.0" y1="430.56" x2="49.3" y2="430.56" stroke="#111" stroke-width="1"/>
<text x="0" y="0" font-size="10.1" font-weight="normal" text-anchor="end" fill="#000" stroke="#000" stroke-width="0.12" transform="translate(39.7,434.365) scale(0.78,1)">1.5</text>
<line x1="44.0" y1="410.13" x2="49.3" y2="410.13" stroke="#111" stroke-width="1"/>
<text x="0" y="0" font-size="10.1" font-weight="normal" text-anchor="end" fill="#000" stroke="#000" stroke-width="0.12" transform="translate(39.7,413.93) scale(0.78,1)">2.0</text>
<line x1="44.0" y1="389.69" x2="49.3" y2="389.69" stroke="#111" stroke-width="1"/>
<text x="0" y="0" font-size="10.1" font-weight="normal" text-anchor="end" fill="#000" stroke="#000" stroke-width="0.12" transform="translate(39.7,393.495) scale(0.78,1)">2.5</text>
<line x1="44.0" y1="369.26" x2="49.3" y2="369.26" stroke="#111" stroke-width="1"/>
<text x="0" y="0" font-size="10.1" font-weight="normal" text-anchor="end" fill="#000" stroke="#000" stroke-width="0.12" transform="translate(39.7,373.06) scale(0.78,1)">3.0</text>
<line x1="44.0" y1="348.82" x2="49.3" y2="348.82" stroke="#111" stroke-width="1"/>
<text x="0" y="0" font-size="10.1" font-weight="normal" text-anchor="end" fill="#000" stroke="#000" stroke-width="0.12" transform="translate(39.7,352.625) scale(0.78,1)">3.5</text>
<line x1="44.0" y1="328.39" x2="49.3" y2="328.39" stroke="#111" stroke-width="1"/>
<text x="0" y="0" font-size="10.1" font-weight="normal" text-anchor="end" fill="#000" stroke="#000" stroke-width="0.12" transform="translate(39.7,332.19) scale(0.78,1)">4.0</text>
<text x="0" y="0" font-size="10.1" font-weight="normal" text-anchor="middle" fill="#000" stroke="#000" stroke-width="0.12" transform="translate(44.8,464.5) scale(0.78,1)">0</text>
<line x1="65.82" y1="451.0" x2="65.82" y2="445.8" stroke="#111" stroke-width="1"/>
<text x="0" y="0" font-size="10.1" font-weight="normal" text-anchor="middle" fill="#000" stroke="#000" stroke-width="0.12" transform="translate(66.61999999999999,464.5) scale(0.78,1)">2</text>
<line x1="87.64" y1="451.0" x2="87.64" y2="445.8" stroke="#111" stroke-width="1"/>
<text x="0" y="0" font-size="10.1" font-weight="normal" text-anchor="middle" fill="#000" stroke="#000" stroke-width="0.12" transform="translate(88.44,464.5) scale(0.78,1)">4</text>
<line x1="109.46" y1="451.0" x2="109.46" y2="445.8" stroke="#111" stroke-width="1"/>
<text x="0" y="0" font-size="10.1" font-weight="normal" text-anchor="middle" fill="#000" stroke="#000" stroke-width="0.12" transform="translate(110.26,464.5) scale(0.78,1)">6</text>
<line x1="131.28" y1="451.0" x2="131.28" y2="445.8" stroke="#111" stroke-width="1"/>
<text x="0" y="0" font-size="10.1" font-weight="normal" text-anchor="middle" fill="#000" stroke="#000" stroke-width="0.12" transform="translate(132.08,464.5) scale(0.78,1)">8</text>
<line x1="153.10" y1="451.0" x2="153.10" y2="445.8" stroke="#111" stroke-width="1"/>
<text x="0" y="0" font-size="10.1" font-weight="normal" text-anchor="middle" fill="#000" stroke="#000" stroke-width="0.12" transform="translate(153.9,464.5) scale(0.78,1)">10</text>
<line x1="174.92" y1="451.0" x2="174.92" y2="445.8" stroke="#111" stroke-width="1"/>
<text x="0" y="0" font-size="10.1" font-weight="normal" text-anchor="middle" fill="#000" stroke="#000" stroke-width="0.12" transform="translate(175.72000000000003,464.5) scale(0.78,1)">12</text>
<line x1="196.74" y1="451.0" x2="196.74" y2="445.8" stroke="#111" stroke-width="1"/>
<text x="0" y="0" font-size="10.1" font-weight="normal" text-anchor="middle" fill="#000" stroke="#000" stroke-width="0.12" transform="translate(197.54000000000002,464.5) scale(0.78,1)">14</text>
<line x1="218.56" y1="451.0" x2="218.56" y2="445.8" stroke="#111" stroke-width="1"/>
<text x="0" y="0" font-size="10.1" font-weight="normal" text-anchor="middle" fill="#000" stroke="#000" stroke-width="0.12" transform="translate(219.36,464.5) scale(0.78,1)">16</text>
<line x1="240.38" y1="451.0" x2="240.38" y2="445.8" stroke="#111" stroke-width="1"/>
<text x="0" y="0" font-size="10.1" font-weight="normal" text-anchor="middle" fill="#000" stroke="#000" stroke-width="0.12" transform="translate(241.18,464.5) scale(0.78,1)">18</text>
<text x="0" y="0" font-size="10.1" font-weight="normal" text-anchor="middle" fill="#000" stroke="#000" stroke-width="0.12" transform="translate(263.0,464.5) scale(0.78,1)">20</text>
<text x="0" y="0" font-size="17.6" font-weight="bold" text-anchor="start" fill="#000" transform="translate(46.6,317.5) scale(1.0,1)">E</text>
<text x="0" y="0" font-size="10.0" font-weight="bold" text-anchor="start" fill="#000" transform="translate(62.4,333.0) scale(1.0,1)">BMMC</text>
<polyline points="193.30,329.20 214.10,329.20" fill="none" stroke="#333" stroke-width="1.1"/>
<circle cx="203.70" cy="329.20" r="1.90" fill="#000"/>
<text x="0" y="0" font-size="8.6" font-weight="normal" text-anchor="start" fill="#000" stroke="#000" stroke-width="0.35" transform="translate(217.5,332.2) scale(0.81,1)">NS</text>
<polyline points="193.30,338.50 214.10,338.50" fill="none" stroke="#555" stroke-width="0.85"/>
<circle cx="203.70" cy="338.50" r="1.55" fill="#fff" stroke="#000" stroke-width="0.95"/>
<text x="0" y="0" font-size="8.6" font-weight="normal" text-anchor="start" fill="#000" stroke="#000" stroke-width="0.35" transform="translate(217.5,341.5) scale(0.81,1)">MALP2</text>
<polyline points="193.30,347.70 214.10,347.70" fill="none" stroke="#333" stroke-width="0.95" stroke-dasharray="5.6,1"/>
<polygon points="202.09,346.26 205.31,346.26 203.70,349.66" fill="#000" stroke="#000" stroke-width="0.5"/>
<text x="0" y="0" font-size="8.6" font-weight="normal" text-anchor="start" fill="#000" stroke="#000" stroke-width="0.35" transform="translate(217.5,350.7) scale(0.81,1)">Ag + MALP2</text>
<polyline points="193.30,357.00 214.10,357.00" fill="none" stroke="#444" stroke-width="0.9" stroke-dasharray="7.5,0.8"/>
<polygon points="202.09,355.56 205.31,355.56 203.70,358.96" fill="#fff" stroke="#000" stroke-width="0.8"/>
<text x="0" y="0" font-size="8.6" font-weight="normal" text-anchor="start" fill="#000" stroke="#000" stroke-width="0.35" transform="translate(217.5,360.0) scale(0.81,1)">Ag</text>
<text transform="translate(9.9,385.5) rotate(-90) scale(0.80,1)" font-size="10.4" text-anchor="middle" fill="#000" stroke="#000" stroke-width="0.1">CYTOSOLIC Ca<tspan font-size="8.3" dy="-3.3">2+</tspan></text>
<text transform="translate(21.8,385.5) rotate(-90) scale(0.81,1)" font-size="10.3" text-anchor="middle" fill="#000" stroke="#000" stroke-width="0.1">(Fluorescence 340/380 nm)</text>
<polyline points="45.90,436.90 51.39,436.40 56.88,436.40 62.36,436.20 67.85,436.00 73.34,426.22 78.83,425.58 84.32,426.21 89.80,427.02 95.29,427.15 100.78,424.20 106.27,423.77 111.76,427.60 117.24,426.43 122.73,425.48 128.22,425.77 133.71,425.00 139.20,426.96 144.68,424.82 150.17,425.03 155.66,425.17 161.15,427.73 166.64,424.97 172.12,425.65 177.61,425.39 183.10,426.20 188.59,425.70 194.08,424.83 199.56,424.03 205.05,425.02 210.54,426.98 216.03,426.04 221.52,426.75 227.00,423.86 232.49,427.11" fill="none" stroke="#000" stroke-width="0.9"/>
<circle cx="45.90" cy="436.90" r="1.85" fill="#000"/>
<circle cx="51.39" cy="436.40" r="1.85" fill="#000"/>
<circle cx="56.88" cy="436.40" r="1.85" fill="#000"/>
<circle cx="62.36" cy="436.20" r="1.85" fill="#000"/>
<circle cx="67.85" cy="436.00" r="1.85" fill="#000"/>
<circle cx="73.34" cy="426.22" r="1.85" fill="#000"/>
<circle cx="78.83" cy="425.58" r="1.85" fill="#000"/>
<circle cx="84.32" cy="426.21" r="1.85" fill="#000"/>
<circle cx="89.80" cy="427.02" r="1.85" fill="#000"/>
<circle cx="95.29" cy="427.15" r="1.85" fill="#000"/>
<circle cx="100.78" cy="424.20" r="1.85" fill="#000"/>
<circle cx="106.27" cy="423.77" r="1.85" fill="#000"/>
<circle cx="111.76" cy="427.60" r="1.85" fill="#000"/>
<circle cx="117.24" cy="426.43" r="1.85" fill="#000"/>
<circle cx="122.73" cy="425.48" r="1.85" fill="#000"/>
<circle cx="128.22" cy="425.77" r="1.85" fill="#000"/>
<circle cx="133.71" cy="425.00" r="1.85" fill="#000"/>
<circle cx="139.20" cy="426.96" r="1.85" fill="#000"/>
<circle cx="144.68" cy="424.82" r="1.85" fill="#000"/>
<circle cx="150.17" cy="425.03" r="1.85" fill="#000"/>
<circle cx="155.66" cy="425.17" r="1.85" fill="#000"/>
<circle cx="161.15" cy="427.73" r="1.85" fill="#000"/>
<circle cx="166.64" cy="424.97" r="1.85" fill="#000"/>
<circle cx="172.12" cy="425.65" r="1.85" fill="#000"/>
<circle cx="177.61" cy="425.39" r="1.85" fill="#000"/>
<circle cx="183.10" cy="426.20" r="1.85" fill="#000"/>
<circle cx="188.59" cy="425.70" r="1.85" fill="#000"/>
<circle cx="194.08" cy="424.83" r="1.85" fill="#000"/>
<circle cx="199.56" cy="424.03" r="1.85" fill="#000"/>
<circle cx="205.05" cy="425.02" r="1.85" fill="#000"/>
<circle cx="210.54" cy="426.98" r="1.85" fill="#000"/>
<circle cx="216.03" cy="426.04" r="1.85" fill="#000"/>
<circle cx="221.52" cy="426.75" r="1.85" fill="#000"/>
<circle cx="227.00" cy="423.86" r="1.85" fill="#000"/>
<circle cx="232.49" cy="427.11" r="1.85" fill="#000"/>
<polyline points="45.90,436.90 51.39,436.40 56.88,436.40 62.36,436.20 67.85,436.00 73.34,424.72 78.83,425.58 84.32,426.21 89.80,425.02 95.29,425.65 100.78,425.40 106.27,424.97 111.76,425.60 117.24,424.93 122.73,425.48 128.22,424.97 133.71,425.00 139.20,425.46 144.68,426.02 150.17,425.03 155.66,425.17 161.15,425.73 166.64,426.17 172.12,425.65 177.61,425.39 183.10,426.20 188.59,424.90 194.08,426.03 199.56,425.23 205.05,425.02 210.54,424.98 216.03,425.24 221.52,425.95 227.00,425.06 232.49,425.61" fill="none" stroke="#000" stroke-width="0.9"/>
<circle cx="45.90" cy="436.90" r="1.50" fill="#fff" stroke="#000" stroke-width="0.95"/>
<circle cx="51.39" cy="436.40" r="1.50" fill="#fff" stroke="#000" stroke-width="0.95"/>
<circle cx="56.88" cy="436.40" r="1.50" fill="#fff" stroke="#000" stroke-width="0.95"/>
<circle cx="62.36" cy="436.20" r="1.50" fill="#fff" stroke="#000" stroke-width="0.95"/>
<circle cx="67.85" cy="436.00" r="1.50" fill="#fff" stroke="#000" stroke-width="0.95"/>
<circle cx="73.34" cy="424.72" r="1.50" fill="#fff" stroke="#000" stroke-width="0.95"/>
<circle cx="78.83" cy="425.58" r="1.50" fill="#fff" stroke="#000" stroke-width="0.95"/>
<circle cx="84.32" cy="426.21" r="1.50" fill="#fff" stroke="#000" stroke-width="0.95"/>
<circle cx="89.80" cy="425.02" r="1.50" fill="#fff" stroke="#000" stroke-width="0.95"/>
<circle cx="95.29" cy="425.65" r="1.50" fill="#fff" stroke="#000" stroke-width="0.95"/>
<circle cx="100.78" cy="425.40" r="1.50" fill="#fff" stroke="#000" stroke-width="0.95"/>
<circle cx="106.27" cy="424.97" r="1.50" fill="#fff" stroke="#000" stroke-width="0.95"/>
<circle cx="111.76" cy="425.60" r="1.50" fill="#fff" stroke="#000" stroke-width="0.95"/>
<circle cx="117.24" cy="424.93" r="1.50" fill="#fff" stroke="#000" stroke-width="0.95"/>
<circle cx="122.73" cy="425.48" r="1.50" fill="#fff" stroke="#000" stroke-width="0.95"/>
<circle cx="128.22" cy="424.97" r="1.50" fill="#fff" stroke="#000" stroke-width="0.95"/>
<circle cx="133.71" cy="425.00" r="1.50" fill="#fff" stroke="#000" stroke-width="0.95"/>
<circle cx="139.20" cy="425.46" r="1.50" fill="#fff" stroke="#000" stroke-width="0.95"/>
<circle cx="144.68" cy="426.02" r="1.50" fill="#fff" stroke="#000" stroke-width="0.95"/>
<circle cx="150.17" cy="425.03" r="1.50" fill="#fff" stroke="#000" stroke-width="0.95"/>
<circle cx="155.66" cy="425.17" r="1.50" fill="#fff" stroke="#000" stroke-width="0.95"/>
<circle cx="161.15" cy="425.73" r="1.50" fill="#fff" stroke="#000" stroke-width="0.95"/>
<circle cx="166.64" cy="426.17" r="1.50" fill="#fff" stroke="#000" stroke-width="0.95"/>
<circle cx="172.12" cy="425.65" r="1.50" fill="#fff" stroke="#000" stroke-width="0.95"/>
<circle cx="177.61" cy="425.39" r="1.50" fill="#fff" stroke="#000" stroke-width="0.95"/>
<circle cx="183.10" cy="426.20" r="1.50" fill="#fff" stroke="#000" stroke-width="0.95"/>
<circle cx="188.59" cy="424.90" r="1.50" fill="#fff" stroke="#000" stroke-width="0.95"/>
<circle cx="194.08" cy="426.03" r="1.50" fill="#fff" stroke="#000" stroke-width="0.95"/>
<circle cx="199.56" cy="425.23" r="1.50" fill="#fff" stroke="#000" stroke-width="0.95"/>
<circle cx="205.05" cy="425.02" r="1.50" fill="#fff" stroke="#000" stroke-width="0.95"/>
<circle cx="210.54" cy="424.98" r="1.50" fill="#fff" stroke="#000" stroke-width="0.95"/>
<circle cx="216.03" cy="425.24" r="1.50" fill="#fff" stroke="#000" stroke-width="0.95"/>
<circle cx="221.52" cy="425.95" r="1.50" fill="#fff" stroke="#000" stroke-width="0.95"/>
<circle cx="227.00" cy="425.06" r="1.50" fill="#fff" stroke="#000" stroke-width="0.95"/>
<circle cx="232.49" cy="425.61" r="1.50" fill="#fff" stroke="#000" stroke-width="0.95"/>
<polyline points="67.85,435.36 73.34,368.33 78.83,346.18 84.32,345.90 89.80,347.24 95.29,349.57 100.78,359.63 106.27,363.68 111.76,366.55 117.24,371.87 122.73,375.62 128.22,377.28 133.71,378.87 139.20,383.90 144.68,385.30 150.17,385.30 155.66,386.89 161.15,389.51 166.64,390.91 172.12,390.53 177.61,392.12 183.10,397.30 188.59,394.60 194.08,396.43 199.56,398.61 205.05,400.35 210.54,400.42 216.03,401.33 221.52,403.54 227.00,404.09 232.49,406.50" fill="none" stroke="#000" stroke-width="0.9"/>
<polygon points="66.24,433.93 69.46,433.93 67.85,437.32" fill="#000" stroke="#000" stroke-width="0.5"/>
<polygon points="71.73,366.90 74.95,366.90 73.34,370.29" fill="#000" stroke="#000" stroke-width="0.5"/>
<polygon points="77.22,344.75 80.44,344.75 78.83,348.14" fill="#000" stroke="#000" stroke-width="0.5"/>
<polygon points="82.71,344.46 85.93,344.46 84.32,347.86" fill="#000" stroke="#000" stroke-width="0.5"/>
<polygon points="88.19,345.81 91.41,345.81 89.80,349.20" fill="#000" stroke="#000" stroke-width="0.5"/>
<polygon points="93.68,348.14 96.90,348.14 95.29,351.53" fill="#000" stroke="#000" stroke-width="0.5"/>
<polygon points="99.17,358.20 102.39,358.20 100.78,361.59" fill="#000" stroke="#000" stroke-width="0.5"/>
<polygon points="104.66,362.25 107.88,362.25 106.27,365.64" fill="#000" stroke="#000" stroke-width="0.5"/>
<polygon points="110.15,365.12 113.37,365.12 111.76,368.51" fill="#000" stroke="#000" stroke-width="0.5"/>
<polygon points="115.63,370.43 118.85,370.43 117.24,373.83" fill="#000" stroke="#000" stroke-width="0.5"/>
<polygon points="121.12,374.18 124.34,374.18 122.73,377.58" fill="#000" stroke="#000" stroke-width="0.5"/>
<polygon points="126.61,375.84 129.83,375.84 128.22,379.24" fill="#000" stroke="#000" stroke-width="0.5"/>
<polygon points="132.10,377.44 135.32,377.44 133.71,380.83" fill="#000" stroke="#000" stroke-width="0.5"/>
<polygon points="137.59,382.47 140.81,382.47 139.20,385.86" fill="#000" stroke="#000" stroke-width="0.5"/>
<polygon points="143.07,383.86 146.29,383.86 144.68,387.26" fill="#000" stroke="#000" stroke-width="0.5"/>
<polygon points="148.56,383.87 151.78,383.87 150.17,387.26" fill="#000" stroke="#000" stroke-width="0.5"/>
<polygon points="154.05,385.46 157.27,385.46 155.66,388.85" fill="#000" stroke="#000" stroke-width="0.5"/>
<polygon points="159.54,388.08 162.76,388.08 161.15,391.47" fill="#000" stroke="#000" stroke-width="0.5"/>
<polygon points="165.03,389.47 168.25,389.47 166.64,392.87" fill="#000" stroke="#000" stroke-width="0.5"/>
<polygon points="170.51,389.09 173.73,389.09 172.12,392.49" fill="#000" stroke="#000" stroke-width="0.5"/>
<polygon points="176.00,390.68 179.22,390.68 177.61,394.08" fill="#000" stroke="#000" stroke-width="0.5"/>
<polygon points="181.49,395.87 184.71,395.87 183.10,399.26" fill="#000" stroke="#000" stroke-width="0.5"/>
<polygon points="186.98,393.17 190.20,393.17 188.59,396.56" fill="#000" stroke="#000" stroke-width="0.5"/>
<polygon points="192.47,395.00 195.69,395.00 194.08,398.39" fill="#000" stroke="#000" stroke-width="0.5"/>
<polygon points="197.95,397.17 201.17,397.17 199.56,400.57" fill="#000" stroke="#000" stroke-width="0.5"/>
<polygon points="203.44,398.92 206.66,398.92 205.05,402.31" fill="#000" stroke="#000" stroke-width="0.5"/>
<polygon points="208.93,398.98 212.15,398.98 210.54,402.38" fill="#000" stroke="#000" stroke-width="0.5"/>
<polygon points="214.42,399.90 217.64,399.90 216.03,403.29" fill="#000" stroke="#000" stroke-width="0.5"/>
<polygon points="219.91,402.11 223.13,402.11 221.52,405.50" fill="#000" stroke="#000" stroke-width="0.5"/>
<polygon points="225.39,402.66 228.61,402.66 227.00,406.05" fill="#000" stroke="#000" stroke-width="0.5"/>
<polygon points="230.88,405.06 234.10,405.06 232.49,408.46" fill="#000" stroke="#000" stroke-width="0.5"/>
<polyline points="67.85,435.34 73.34,365.66 78.83,345.26 84.32,338.30 89.80,341.32 95.29,347.91 100.78,354.21 106.27,360.38 111.76,363.34 117.24,370.37 122.73,369.64 128.22,376.67 133.71,378.13 139.20,383.89 144.68,384.60 150.17,384.60 155.66,386.19 161.15,388.61 166.64,389.91 172.12,389.34 177.61,391.74 183.10,393.61 188.59,395.14 194.08,396.43 199.56,398.61 205.05,400.35 210.54,400.42 216.03,401.25 221.52,402.76 227.00,403.46 232.49,405.00" fill="none" stroke="#000" stroke-width="0.9"/>
<polygon points="66.24,433.90 69.46,433.90 67.85,437.30" fill="#fff" stroke="#000" stroke-width="0.8"/>
<polygon points="71.73,364.23 74.95,364.23 73.34,367.62" fill="#fff" stroke="#000" stroke-width="0.8"/>
<polygon points="77.22,343.83 80.44,343.83 78.83,347.22" fill="#fff" stroke="#000" stroke-width="0.8"/>
<polygon points="82.71,336.86 85.93,336.86 84.32,340.26" fill="#fff" stroke="#000" stroke-width="0.8"/>
<polygon points="88.19,339.89 91.41,339.89 89.80,343.28" fill="#fff" stroke="#000" stroke-width="0.8"/>
<polygon points="93.68,346.47 96.90,346.47 95.29,349.87" fill="#fff" stroke="#000" stroke-width="0.8"/>
<polygon points="99.17,352.77 102.39,352.77 100.78,356.17" fill="#fff" stroke="#000" stroke-width="0.8"/>
<polygon points="104.66,358.95 107.88,358.95 106.27,362.34" fill="#fff" stroke="#000" stroke-width="0.8"/>
<polygon points="110.15,361.91 113.37,361.91 111.76,365.30" fill="#fff" stroke="#000" stroke-width="0.8"/>
<polygon points="115.63,368.93 118.85,368.93 117.24,372.33" fill="#fff" stroke="#000" stroke-width="0.8"/>
<polygon points="121.12,368.20 124.34,368.20 122.73,371.60" fill="#fff" stroke="#000" stroke-width="0.8"/>
<polygon points="126.61,375.23 129.83,375.23 128.22,378.63" fill="#fff" stroke="#000" stroke-width="0.8"/>
<polygon points="132.10,376.69 135.32,376.69 133.71,380.09" fill="#fff" stroke="#000" stroke-width="0.8"/>
<polygon points="137.59,382.46 140.81,382.46 139.20,385.85" fill="#fff" stroke="#000" stroke-width="0.8"/>
<polygon points="143.07,383.16 146.29,383.16 144.68,386.56" fill="#fff" stroke="#000" stroke-width="0.8"/>
<polygon points="148.56,383.17 151.78,383.17 150.17,386.56" fill="#fff" stroke="#000" stroke-width="0.8"/>
<polygon points="154.05,384.76 157.27,384.76 155.66,388.15" fill="#fff" stroke="#000" stroke-width="0.8"/>
<polygon points="159.54,387.18 162.76,387.18 161.15,390.57" fill="#fff" stroke="#000" stroke-width="0.8"/>
<polygon points="165.03,388.48 168.25,388.48 166.64,391.87" fill="#fff" stroke="#000" stroke-width="0.8"/>
<polygon points="170.51,387.90 173.73,387.90 172.12,391.30" fill="#fff" stroke="#000" stroke-width="0.8"/>
<polygon points="176.00,390.30 179.22,390.30 177.61,393.70" fill="#fff" stroke="#000" stroke-width="0.8"/>
<polygon points="181.49,392.18 184.71,392.18 183.10,395.57" fill="#fff" stroke="#000" stroke-width="0.8"/>
<polygon points="186.98,393.71 190.20,393.71 188.59,397.10" fill="#fff" stroke="#000" stroke-width="0.8"/>
<polygon points="192.47,395.00 195.69,395.00 194.08,398.39" fill="#fff" stroke="#000" stroke-width="0.8"/>
<polygon points="197.95,397.17 201.17,397.17 199.56,400.57" fill="#fff" stroke="#000" stroke-width="0.8"/>
<polygon points="203.44,398.92 206.66,398.92 205.05,402.31" fill="#fff" stroke="#000" stroke-width="0.8"/>
<polygon points="208.93,398.98 212.15,398.98 210.54,402.38" fill="#fff" stroke="#000" stroke-width="0.8"/>
<polygon points="214.42,399.82 217.64,399.82 216.03,403.21" fill="#fff" stroke="#000" stroke-width="0.8"/>
<polygon points="219.91,401.33 223.13,401.33 221.52,404.72" fill="#fff" stroke="#000" stroke-width="0.8"/>
<polygon points="225.39,402.03 228.61,402.03 227.00,405.42" fill="#fff" stroke="#000" stroke-width="0.8"/>
<polygon points="230.88,403.56 234.10,403.56 232.49,406.96" fill="#fff" stroke="#000" stroke-width="0.8"/>
<line x1="57.2" y1="424.2" x2="66.3" y2="432.8" stroke="#000" stroke-width="0.9"/>
<polygon points="66.30,432.80 61.72,430.95 64.19,428.33" fill="#000"/>
<rect x="295.3" y="319.7" width="218.2" height="131.3" fill="none" stroke="#111" stroke-width="1.25"/>
<text x="0" y="0" font-size="10.1" font-weight="normal" text-anchor="end" fill="#000" stroke="#000" stroke-width="0.12" transform="translate(291.0,454.8) scale(0.78,1)">1.0</text>
<line x1="295.3" y1="433.40" x2="300.6" y2="433.40" stroke="#111" stroke-width="1"/>
<text x="0" y="0" font-size="10.1" font-weight="normal" text-anchor="end" fill="#000" stroke="#000" stroke-width="0.12" transform="translate(291.0,437.2) scale(0.78,1)">1.5</text>
<line x1="295.3" y1="415.80" x2="300.6" y2="415.80" stroke="#111" stroke-width="1"/>
<text x="0" y="0" font-size="10.1" font-weight="normal" text-anchor="end" fill="#000" stroke="#000" stroke-width="0.12" transform="translate(291.0,419.6) scale(0.78,1)">2.0</text>
<line x1="295.3" y1="398.20" x2="300.6" y2="398.20" stroke="#111" stroke-width="1"/>
<text x="0" y="0" font-size="10.1" font-weight="normal" text-anchor="end" fill="#000" stroke="#000" stroke-width="0.12" transform="translate(291.0,402.0) scale(0.78,1)">2.5</text>
<line x1="295.3" y1="380.60" x2="300.6" y2="380.60" stroke="#111" stroke-width="1"/>
<text x="0" y="0" font-size="10.1" font-weight="normal" text-anchor="end" fill="#000" stroke="#000" stroke-width="0.12" transform="translate(291.0,384.40000000000003) scale(0.78,1)">3.0</text>
<line x1="295.3" y1="363.00" x2="300.6" y2="363.00" stroke="#111" stroke-width="1"/>
<text x="0" y="0" font-size="10.1" font-weight="normal" text-anchor="end" fill="#000" stroke="#000" stroke-width="0.12" transform="translate(291.0,366.8) scale(0.78,1)">3.5</text>
<line x1="295.3" y1="345.40" x2="300.6" y2="345.40" stroke="#111" stroke-width="1"/>
<text x="0" y="0" font-size="10.1" font-weight="normal" text-anchor="end" fill="#000" stroke="#000" stroke-width="0.12" transform="translate(291.0,349.2) scale(0.78,1)">4.0</text>
<line x1="295.3" y1="327.80" x2="300.6" y2="327.80" stroke="#111" stroke-width="1"/>
<text x="0" y="0" font-size="10.1" font-weight="normal" text-anchor="end" fill="#000" stroke="#000" stroke-width="0.12" transform="translate(291.0,331.59999999999997) scale(0.78,1)">4.5</text>
<text x="0" y="0" font-size="10.1" font-weight="normal" text-anchor="middle" fill="#000" stroke="#000" stroke-width="0.12" transform="translate(296.1,464.5) scale(0.78,1)">0</text>
<line x1="317.12" y1="451.0" x2="317.12" y2="445.8" stroke="#111" stroke-width="1"/>
<text x="0" y="0" font-size="10.1" font-weight="normal" text-anchor="middle" fill="#000" stroke="#000" stroke-width="0.12" transform="translate(317.92,464.5) scale(0.78,1)">2</text>
<line x1="338.94" y1="451.0" x2="338.94" y2="445.8" stroke="#111" stroke-width="1"/>
<text x="0" y="0" font-size="10.1" font-weight="normal" text-anchor="middle" fill="#000" stroke="#000" stroke-width="0.12" transform="translate(339.74,464.5) scale(0.78,1)">4</text>
<line x1="360.76" y1="451.0" x2="360.76" y2="445.8" stroke="#111" stroke-width="1"/>
<text x="0" y="0" font-size="10.1" font-weight="normal" text-anchor="middle" fill="#000" stroke="#000" stroke-width="0.12" transform="translate(361.56,464.5) scale(0.78,1)">6</text>
<line x1="382.58" y1="451.0" x2="382.58" y2="445.8" stroke="#111" stroke-width="1"/>
<text x="0" y="0" font-size="10.1" font-weight="normal" text-anchor="middle" fill="#000" stroke="#000" stroke-width="0.12" transform="translate(383.38000000000005,464.5) scale(0.78,1)">8</text>
<line x1="404.40" y1="451.0" x2="404.40" y2="445.8" stroke="#111" stroke-width="1"/>
<text x="0" y="0" font-size="10.1" font-weight="normal" text-anchor="middle" fill="#000" stroke="#000" stroke-width="0.12" transform="translate(405.2,464.5) scale(0.78,1)">10</text>
<line x1="426.22" y1="451.0" x2="426.22" y2="445.8" stroke="#111" stroke-width="1"/>
<text x="0" y="0" font-size="10.1" font-weight="normal" text-anchor="middle" fill="#000" stroke="#000" stroke-width="0.12" transform="translate(427.02000000000004,464.5) scale(0.78,1)">12</text>
<line x1="448.04" y1="451.0" x2="448.04" y2="445.8" stroke="#111" stroke-width="1"/>
<text x="0" y="0" font-size="10.1" font-weight="normal" text-anchor="middle" fill="#000" stroke="#000" stroke-width="0.12" transform="translate(448.84000000000003,464.5) scale(0.78,1)">14</text>
<line x1="469.86" y1="451.0" x2="469.86" y2="445.8" stroke="#111" stroke-width="1"/>
<text x="0" y="0" font-size="10.1" font-weight="normal" text-anchor="middle" fill="#000" stroke="#000" stroke-width="0.12" transform="translate(470.66,464.5) scale(0.78,1)">16</text>
<line x1="491.68" y1="451.0" x2="491.68" y2="445.8" stroke="#111" stroke-width="1"/>
<text x="0" y="0" font-size="10.1" font-weight="normal" text-anchor="middle" fill="#000" stroke="#000" stroke-width="0.12" transform="translate(492.48,464.5) scale(0.78,1)">18</text>
<text x="0" y="0" font-size="10.1" font-weight="normal" text-anchor="middle" fill="#000" stroke="#000" stroke-width="0.12" transform="translate(514.3,464.5) scale(0.78,1)">20</text>
<text x="0" y="0" font-size="17.6" font-weight="bold" text-anchor="start" fill="#000" transform="translate(303.1,317.5) scale(1.0,1)">F</text>
<text x="0" y="0" font-size="10.0" font-weight="bold" text-anchor="start" fill="#000" transform="translate(313.9,333.0) scale(1.0,1)">BMMC</text>
<polyline points="452.80,329.20 473.60,329.20" fill="none" stroke="#333" stroke-width="1.1"/>
<circle cx="463.20" cy="329.20" r="1.90" fill="#000"/>
<text x="0" y="0" font-size="8.6" font-weight="normal" text-anchor="start" fill="#000" stroke="#000" stroke-width="0.35" transform="translate(477.0,332.2) scale(0.81,1)">NS</text>
<polyline points="452.80,338.50 473.60,338.50" fill="none" stroke="#555" stroke-width="0.85"/>
<circle cx="463.20" cy="338.50" r="1.55" fill="#fff" stroke="#000" stroke-width="0.95"/>
<text x="0" y="0" font-size="8.6" font-weight="normal" text-anchor="start" fill="#000" stroke="#000" stroke-width="0.35" transform="translate(477.0,341.5) scale(0.81,1)">PGN</text>
<polyline points="452.80,347.70 473.60,347.70" fill="none" stroke="#333" stroke-width="0.95" stroke-dasharray="5.6,1"/>
<polygon points="461.59,346.26 464.81,346.26 463.20,349.66" fill="#000" stroke="#000" stroke-width="0.5"/>
<text x="0" y="0" font-size="8.6" font-weight="normal" text-anchor="start" fill="#000" stroke="#000" stroke-width="0.35" transform="translate(477.0,350.7) scale(0.81,1)">Ag + PGN</text>
<polyline points="452.80,357.00 473.60,357.00" fill="none" stroke="#444" stroke-width="0.9" stroke-dasharray="7.5,0.8"/>
<polygon points="461.59,355.56 464.81,355.56 463.20,358.96" fill="#fff" stroke="#000" stroke-width="0.8"/>
<text x="0" y="0" font-size="8.6" font-weight="normal" text-anchor="start" fill="#000" stroke="#000" stroke-width="0.35" transform="translate(477.0,360.0) scale(0.81,1)">Ag</text>
<polyline points="297.20,417.30 302.67,415.30 308.14,419.50 313.61,418.30 319.08,418.60 324.55,426.63 330.02,426.86 335.49,427.50 340.96,427.62 346.43,427.75 351.90,427.13 357.37,427.35 362.84,427.13 368.31,428.17 373.78,429.19 379.25,427.43 384.72,427.02 390.19,425.54 395.66,426.75 401.13,428.62 406.60,427.64 412.07,428.41 417.54,428.44 423.01,430.00 428.48,428.00 433.95,426.13 439.42,427.97 444.89,426.85 450.36,428.16 455.83,429.13 461.30,426.58 466.77,427.50 472.24,429.05 477.71,429.78 483.18,430.98 488.65,428.53" fill="none" stroke="#000" stroke-width="0.9"/>
<circle cx="297.20" cy="417.30" r="1.85" fill="#000"/>
<circle cx="302.67" cy="415.30" r="1.85" fill="#000"/>
<circle cx="308.14" cy="419.50" r="1.85" fill="#000"/>
<circle cx="313.61" cy="418.30" r="1.85" fill="#000"/>
<circle cx="319.08" cy="418.60" r="1.85" fill="#000"/>
<circle cx="324.55" cy="426.63" r="1.85" fill="#000"/>
<circle cx="330.02" cy="426.86" r="1.85" fill="#000"/>
<circle cx="335.49" cy="427.50" r="1.85" fill="#000"/>
<circle cx="340.96" cy="427.62" r="1.85" fill="#000"/>
<circle cx="346.43" cy="427.75" r="1.85" fill="#000"/>
<circle cx="351.90" cy="427.13" r="1.85" fill="#000"/>
<circle cx="357.37" cy="427.35" r="1.85" fill="#000"/>
<circle cx="362.84" cy="427.13" r="1.85" fill="#000"/>
<circle cx="368.31" cy="428.17" r="1.85" fill="#000"/>
<circle cx="373.78" cy="429.19" r="1.85" fill="#000"/>
<circle cx="379.25" cy="427.43" r="1.85" fill="#000"/>
<circle cx="384.72" cy="427.02" r="1.85" fill="#000"/>
<circle cx="390.19" cy="425.54" r="1.85" fill="#000"/>
<circle cx="395.66" cy="426.75" r="1.85" fill="#000"/>
<circle cx="401.13" cy="428.62" r="1.85" fill="#000"/>
<circle cx="406.60" cy="427.64" r="1.85" fill="#000"/>
<circle cx="412.07" cy="428.41" r="1.85" fill="#000"/>
<circle cx="417.54" cy="428.44" r="1.85" fill="#000"/>
<circle cx="423.01" cy="430.00" r="1.85" fill="#000"/>
<circle cx="428.48" cy="428.00" r="1.85" fill="#000"/>
<circle cx="433.95" cy="426.13" r="1.85" fill="#000"/>
<circle cx="439.42" cy="427.97" r="1.85" fill="#000"/>
<circle cx="444.89" cy="426.85" r="1.85" fill="#000"/>
<circle cx="450.36" cy="428.16" r="1.85" fill="#000"/>
<circle cx="455.83" cy="429.13" r="1.85" fill="#000"/>
<circle cx="461.30" cy="426.58" r="1.85" fill="#000"/>
<circle cx="466.77" cy="427.50" r="1.85" fill="#000"/>
<circle cx="472.24" cy="429.05" r="1.85" fill="#000"/>
<circle cx="477.71" cy="429.78" r="1.85" fill="#000"/>
<circle cx="483.18" cy="430.98" r="1.85" fill="#000"/>
<circle cx="488.65" cy="428.53" r="1.85" fill="#000"/>
<polyline points="297.20,416.50 302.67,416.50 308.14,417.50 313.61,418.30 319.08,418.60 324.55,426.63 330.02,426.86 335.49,427.50 340.96,426.82 346.43,426.95 351.90,427.13 357.37,426.55 362.84,427.13 368.31,427.37 373.78,427.69 379.25,426.63 384.72,427.02 390.19,426.74 395.66,427.95 401.13,427.82 406.60,426.84 412.07,428.41 417.54,428.44 423.01,428.00 428.48,428.00 433.95,427.33 439.42,427.17 444.89,428.05 450.36,427.36 455.83,427.63 461.30,427.78 466.77,427.50 472.24,428.25 477.71,428.28 483.18,428.98 488.65,428.53" fill="none" stroke="#000" stroke-width="0.9"/>
<circle cx="297.20" cy="416.50" r="1.50" fill="#fff" stroke="#000" stroke-width="0.95"/>
<circle cx="302.67" cy="416.50" r="1.50" fill="#fff" stroke="#000" stroke-width="0.95"/>
<circle cx="308.14" cy="417.50" r="1.50" fill="#fff" stroke="#000" stroke-width="0.95"/>
<circle cx="313.61" cy="418.30" r="1.50" fill="#fff" stroke="#000" stroke-width="0.95"/>
<circle cx="319.08" cy="418.60" r="1.50" fill="#fff" stroke="#000" stroke-width="0.95"/>
<circle cx="324.55" cy="426.63" r="1.50" fill="#fff" stroke="#000" stroke-width="0.95"/>
<circle cx="330.02" cy="426.86" r="1.50" fill="#fff" stroke="#000" stroke-width="0.95"/>
<circle cx="335.49" cy="427.50" r="1.50" fill="#fff" stroke="#000" stroke-width="0.95"/>
<circle cx="340.96" cy="426.82" r="1.50" fill="#fff" stroke="#000" stroke-width="0.95"/>
<circle cx="346.43" cy="426.95" r="1.50" fill="#fff" stroke="#000" stroke-width="0.95"/>
<circle cx="351.90" cy="427.13" r="1.50" fill="#fff" stroke="#000" stroke-width="0.95"/>
<circle cx="357.37" cy="426.55" r="1.50" fill="#fff" stroke="#000" stroke-width="0.95"/>
<circle cx="362.84" cy="427.13" r="1.50" fill="#fff" stroke="#000" stroke-width="0.95"/>
<circle cx="368.31" cy="427.37" r="1.50" fill="#fff" stroke="#000" stroke-width="0.95"/>
<circle cx="373.78" cy="427.69" r="1.50" fill="#fff" stroke="#000" stroke-width="0.95"/>
<circle cx="379.25" cy="426.63" r="1.50" fill="#fff" stroke="#000" stroke-width="0.95"/>
<circle cx="384.72" cy="427.02" r="1.50" fill="#fff" stroke="#000" stroke-width="0.95"/>
<circle cx="390.19" cy="426.74" r="1.50" fill="#fff" stroke="#000" stroke-width="0.95"/>
<circle cx="395.66" cy="427.95" r="1.50" fill="#fff" stroke="#000" stroke-width="0.95"/>
<circle cx="401.13" cy="427.82" r="1.50" fill="#fff" stroke="#000" stroke-width="0.95"/>
<circle cx="406.60" cy="426.84" r="1.50" fill="#fff" stroke="#000" stroke-width="0.95"/>
<circle cx="412.07" cy="428.41" r="1.50" fill="#fff" stroke="#000" stroke-width="0.95"/>
<circle cx="417.54" cy="428.44" r="1.50" fill="#fff" stroke="#000" stroke-width="0.95"/>
<circle cx="423.01" cy="428.00" r="1.50" fill="#fff" stroke="#000" stroke-width="0.95"/>
<circle cx="428.48" cy="428.00" r="1.50" fill="#fff" stroke="#000" stroke-width="0.95"/>
<circle cx="433.95" cy="427.33" r="1.50" fill="#fff" stroke="#000" stroke-width="0.95"/>
<circle cx="439.42" cy="427.17" r="1.50" fill="#fff" stroke="#000" stroke-width="0.95"/>
<circle cx="444.89" cy="428.05" r="1.50" fill="#fff" stroke="#000" stroke-width="0.95"/>
<circle cx="450.36" cy="427.36" r="1.50" fill="#fff" stroke="#000" stroke-width="0.95"/>
<circle cx="455.83" cy="427.63" r="1.50" fill="#fff" stroke="#000" stroke-width="0.95"/>
<circle cx="461.30" cy="427.78" r="1.50" fill="#fff" stroke="#000" stroke-width="0.95"/>
<circle cx="466.77" cy="427.50" r="1.50" fill="#fff" stroke="#000" stroke-width="0.95"/>
<circle cx="472.24" cy="428.25" r="1.50" fill="#fff" stroke="#000" stroke-width="0.95"/>
<circle cx="477.71" cy="428.28" r="1.50" fill="#fff" stroke="#000" stroke-width="0.95"/>
<circle cx="483.18" cy="428.98" r="1.50" fill="#fff" stroke="#000" stroke-width="0.95"/>
<circle cx="488.65" cy="428.53" r="1.50" fill="#fff" stroke="#000" stroke-width="0.95"/>
<polyline points="324.55,416.00 330.02,384.71 335.49,359.55 340.96,343.32 346.43,349.43 351.90,355.08 357.37,364.95 362.84,368.54 368.31,373.97 373.78,377.26 379.25,381.59 384.72,384.51 390.19,385.91 395.66,386.32 401.13,386.97 406.60,390.52 412.07,391.73 417.54,394.03 423.01,394.70 428.48,395.73 433.95,397.51 439.42,398.00 444.89,398.71 450.36,399.48 455.83,402.20 461.30,401.81 466.77,402.26 472.24,404.09 477.71,402.74 483.18,404.64 488.65,405.79" fill="none" stroke="#000" stroke-width="0.9"/>
<polygon points="322.94,414.56 326.16,414.56 324.55,417.96" fill="#000" stroke="#000" stroke-width="0.5"/>
<polygon points="328.41,383.27 331.63,383.27 330.02,386.67" fill="#000" stroke="#000" stroke-width="0.5"/>
<polygon points="333.88,358.11 337.10,358.11 335.49,361.51" fill="#000" stroke="#000" stroke-width="0.5"/>
<polygon points="339.35,341.88 342.57,341.88 340.96,345.28" fill="#000" stroke="#000" stroke-width="0.5"/>
<polygon points="344.82,348.00 348.04,348.00 346.43,351.39" fill="#000" stroke="#000" stroke-width="0.5"/>
<polygon points="350.29,353.65 353.51,353.65 351.90,357.04" fill="#000" stroke="#000" stroke-width="0.5"/>
<polygon points="355.76,363.51 358.98,363.51 357.37,366.91" fill="#000" stroke="#000" stroke-width="0.5"/>
<polygon points="361.23,367.10 364.45,367.10 362.84,370.50" fill="#000" stroke="#000" stroke-width="0.5"/>
<polygon points="366.70,372.53 369.92,372.53 368.31,375.93" fill="#000" stroke="#000" stroke-width="0.5"/>
<polygon points="372.17,375.83 375.39,375.83 373.78,379.22" fill="#000" stroke="#000" stroke-width="0.5"/>
<polygon points="377.64,380.15 380.86,380.15 379.25,383.55" fill="#000" stroke="#000" stroke-width="0.5"/>
<polygon points="383.11,383.07 386.33,383.07 384.72,386.47" fill="#000" stroke="#000" stroke-width="0.5"/>
<polygon points="388.58,384.48 391.80,384.48 390.19,387.87" fill="#000" stroke="#000" stroke-width="0.5"/>
<polygon points="394.05,384.88 397.27,384.88 395.66,388.28" fill="#000" stroke="#000" stroke-width="0.5"/>
<polygon points="399.52,385.53 402.74,385.53 401.13,388.93" fill="#000" stroke="#000" stroke-width="0.5"/>
<polygon points="404.99,389.09 408.21,389.09 406.60,392.48" fill="#000" stroke="#000" stroke-width="0.5"/>
<polygon points="410.46,390.30 413.68,390.30 412.07,393.69" fill="#000" stroke="#000" stroke-width="0.5"/>
<polygon points="415.93,392.59 419.15,392.59 417.54,395.99" fill="#000" stroke="#000" stroke-width="0.5"/>
<polygon points="421.40,393.27 424.62,393.27 423.01,396.66" fill="#000" stroke="#000" stroke-width="0.5"/>
<polygon points="426.87,394.29 430.09,394.29 428.48,397.69" fill="#000" stroke="#000" stroke-width="0.5"/>
<polygon points="432.34,396.08 435.56,396.08 433.95,399.47" fill="#000" stroke="#000" stroke-width="0.5"/>
<polygon points="437.81,396.57 441.03,396.57 439.42,399.96" fill="#000" stroke="#000" stroke-width="0.5"/>
<polygon points="443.28,397.28 446.50,397.28 444.89,400.67" fill="#000" stroke="#000" stroke-width="0.5"/>
<polygon points="448.75,398.05 451.97,398.05 450.36,401.44" fill="#000" stroke="#000" stroke-width="0.5"/>
<polygon points="454.22,400.76 457.44,400.76 455.83,404.16" fill="#000" stroke="#000" stroke-width="0.5"/>
<polygon points="459.69,400.37 462.91,400.37 461.30,403.77" fill="#000" stroke="#000" stroke-width="0.5"/>
<polygon points="465.16,400.82 468.38,400.82 466.77,404.22" fill="#000" stroke="#000" stroke-width="0.5"/>
<polygon points="470.63,402.65 473.85,402.65 472.24,406.05" fill="#000" stroke="#000" stroke-width="0.5"/>
<polygon points="476.10,401.30 479.32,401.30 477.71,404.70" fill="#000" stroke="#000" stroke-width="0.5"/>
<polygon points="481.57,403.20 484.79,403.20 483.18,406.60" fill="#000" stroke="#000" stroke-width="0.5"/>
<polygon points="487.04,404.35 490.26,404.35 488.65,407.75" fill="#000" stroke="#000" stroke-width="0.5"/>
<polyline points="324.55,416.00 330.02,389.40 335.49,362.60 340.96,351.38 346.43,354.93 351.90,360.43 357.37,367.75 362.84,371.83 368.31,375.97 373.78,379.44 379.25,382.35 384.72,385.11 390.19,390.29 395.66,390.01 401.13,390.48 406.60,395.22 412.07,396.39 417.54,395.73 423.01,396.40 428.48,398.02 433.95,399.45 439.42,401.09 444.89,399.43 450.36,401.17 455.83,403.39 461.30,401.85 466.77,404.64 472.24,405.79 477.71,405.04 483.18,406.92 488.65,407.40" fill="none" stroke="#000" stroke-width="0.9"/>
<polygon points="322.94,414.56 326.16,414.56 324.55,417.96" fill="#fff" stroke="#000" stroke-width="0.8"/>
<polygon points="328.41,387.96 331.63,387.96 330.02,391.36" fill="#fff" stroke="#000" stroke-width="0.8"/>
<polygon points="333.88,361.16 337.10,361.16 335.49,364.56" fill="#fff" stroke="#000" stroke-width="0.8"/>
<polygon points="339.35,349.95 342.57,349.95 340.96,353.34" fill="#fff" stroke="#000" stroke-width="0.8"/>
<polygon points="344.82,353.50 348.04,353.50 346.43,356.89" fill="#fff" stroke="#000" stroke-width="0.8"/>
<polygon points="350.29,359.00 353.51,359.00 351.90,362.39" fill="#fff" stroke="#000" stroke-width="0.8"/>
<polygon points="355.76,366.32 358.98,366.32 357.37,369.71" fill="#fff" stroke="#000" stroke-width="0.8"/>
<polygon points="361.23,370.40 364.45,370.40 362.84,373.79" fill="#fff" stroke="#000" stroke-width="0.8"/>
<polygon points="366.70,374.53 369.92,374.53 368.31,377.93" fill="#fff" stroke="#000" stroke-width="0.8"/>
<polygon points="372.17,378.01 375.39,378.01 373.78,381.40" fill="#fff" stroke="#000" stroke-width="0.8"/>
<polygon points="377.64,380.92 380.86,380.92 379.25,384.31" fill="#fff" stroke="#000" stroke-width="0.8"/>
<polygon points="383.11,383.67 386.33,383.67 384.72,387.07" fill="#fff" stroke="#000" stroke-width="0.8"/>
<polygon points="388.58,388.85 391.80,388.85 390.19,392.25" fill="#fff" stroke="#000" stroke-width="0.8"/>
<polygon points="394.05,388.58 397.27,388.58 395.66,391.97" fill="#fff" stroke="#000" stroke-width="0.8"/>
<polygon points="399.52,389.04 402.74,389.04 401.13,392.44" fill="#fff" stroke="#000" stroke-width="0.8"/>
<polygon points="404.99,393.79 408.21,393.79 406.60,397.18" fill="#fff" stroke="#000" stroke-width="0.8"/>
<polygon points="410.46,394.96 413.68,394.96 412.07,398.35" fill="#fff" stroke="#000" stroke-width="0.8"/>
<polygon points="415.93,394.29 419.15,394.29 417.54,397.69" fill="#fff" stroke="#000" stroke-width="0.8"/>
<polygon points="421.40,394.97 424.62,394.97 423.01,398.36" fill="#fff" stroke="#000" stroke-width="0.8"/>
<polygon points="426.87,396.59 430.09,396.59 428.48,399.98" fill="#fff" stroke="#000" stroke-width="0.8"/>
<polygon points="432.34,398.01 435.56,398.01 433.95,401.41" fill="#fff" stroke="#000" stroke-width="0.8"/>
<polygon points="437.81,399.66 441.03,399.66 439.42,403.05" fill="#fff" stroke="#000" stroke-width="0.8"/>
<polygon points="443.28,397.99 446.50,397.99 444.89,401.39" fill="#fff" stroke="#000" stroke-width="0.8"/>
<polygon points="448.75,399.73 451.97,399.73 450.36,403.13" fill="#fff" stroke="#000" stroke-width="0.8"/>
<polygon points="454.22,401.96 457.44,401.96 455.83,405.35" fill="#fff" stroke="#000" stroke-width="0.8"/>
<polygon points="459.69,400.42 462.91,400.42 461.30,403.81" fill="#fff" stroke="#000" stroke-width="0.8"/>
<polygon points="465.16,403.20 468.38,403.20 466.77,406.60" fill="#fff" stroke="#000" stroke-width="0.8"/>
<polygon points="470.63,404.36 473.85,404.36 472.24,407.75" fill="#fff" stroke="#000" stroke-width="0.8"/>
<polygon points="476.10,403.60 479.32,403.60 477.71,407.00" fill="#fff" stroke="#000" stroke-width="0.8"/>
<polygon points="481.57,405.48 484.79,405.48 483.18,408.88" fill="#fff" stroke="#000" stroke-width="0.8"/>
<polygon points="487.04,405.96 490.26,405.96 488.65,409.36" fill="#fff" stroke="#000" stroke-width="0.8"/>
<line x1="315.0" y1="402.5" x2="318.2" y2="413.8" stroke="#000" stroke-width="0.9"/>
<polygon points="318.20,413.80 315.21,409.86 318.68,408.88" fill="#000"/>
<line x1="304" y1="325.3" x2="309.6" y2="325.3" stroke="#c8c8c8" stroke-width="1"/>
<text x="0" y="0" font-size="10.4" font-weight="normal" text-anchor="middle" fill="#000" stroke="#000" stroke-width="0.3" transform="translate(153.6,479.6) scale(0.79,1)">MIN</text>
<text x="0" y="0" font-size="10.4" font-weight="normal" text-anchor="middle" fill="#000" stroke="#000" stroke-width="0.3" transform="translate(404.8,479.6) scale(0.79,1)">MIN</text>
</g>
</svg>
</body></html>
